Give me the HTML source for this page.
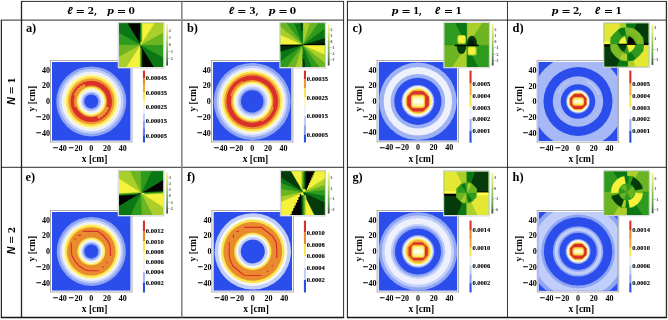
<!DOCTYPE html>
<html><head><meta charset="utf-8"><title>figure</title>
<style>html,body{margin:0;padding:0;background:#fff}svg{display:block}</style></head>
<body>
<svg width="668" height="320" viewBox="0 0 668 320">
<rect width="668" height="320" fill="#fff"/>
<clipPath id="c1"><rect x="51.9" y="62.00000000000001" width="78.8" height="78.8"/></clipPath>
<rect x="50.4" y="60.60000000000001" width="81.6" height="81.39999999999999" fill="#fff" stroke="#8a8a8a" stroke-width="0.7"/>
<g clip-path="url(#c1)">
<rect x="51.9" y="62.00000000000001" width="78.8" height="78.8" fill="#2b4dec"/>
<circle cx="91.3" cy="101.4" r="35" fill="#8ea5f3"/>
<circle cx="91.3" cy="101.4" r="32.4" fill="#c1cef9"/>
<circle cx="91.3" cy="101.4" r="29.8" fill="#eef0fb"/>
<circle cx="91.3" cy="101.4" r="27.5" fill="#fcf8ba"/>
<circle cx="91.3" cy="101.4" r="25.3" fill="#fbe54c"/>
<circle cx="91.3" cy="101.4" r="23.1" fill="#ee9632"/>
<circle cx="91.3" cy="101.4" r="20.7" fill="#d9302a"/>
<circle cx="91.3" cy="101.4" r="15.8" fill="#ee9632"/>
<circle cx="91.3" cy="101.4" r="14.6" fill="#fbe54c"/>
<circle cx="91.3" cy="101.4" r="13.3" fill="#fcf8ba"/>
<circle cx="91.3" cy="101.4" r="11.9" fill="#eef0fb"/>
<circle cx="91.3" cy="101.4" r="10.0" fill="#c1cef9"/>
<circle cx="91.3" cy="101.4" r="8.6" fill="#8ea5f3"/>
<circle cx="91.3" cy="101.4" r="7.0" fill="#2b4dec"/>
<polygon points="84.56,84.71 83.04,85.41 81.58,86.25 80.22,87.22 78.95,88.31 77.78,89.51 76.74,90.82 75.82,92.22 75.03,93.70 74.39,95.24 76.73,96.10 77.29,94.77 77.97,93.49 78.76,92.29 79.66,91.16 80.66,90.13 81.76,89.19 82.93,88.35 84.18,87.63 85.49,87.03" fill="#ee9632" stroke="#ee9632" stroke-width="0.3"/><polygon points="83.76,84.07 83.01,84.41 82.28,84.79 82.90,85.93 83.58,85.58 84.28,85.26" fill="#ee9632" stroke="#ee9632" stroke-width="0.3"/><polygon points="80.87,85.64 80.19,86.11 79.53,86.61 80.34,87.63 80.95,87.16 81.59,86.72" fill="#ee9632" stroke="#ee9632" stroke-width="0.3"/><polygon points="78.29,87.69 77.70,88.27 77.14,88.88 78.12,89.74 78.64,89.17 79.18,88.63" fill="#ee9632" stroke="#ee9632" stroke-width="0.3"/><polygon points="76.11,90.16 75.63,90.83 75.19,91.52 76.29,92.20 76.71,91.56 77.15,90.93" fill="#ee9632" stroke="#ee9632" stroke-width="0.3"/><polygon points="74.39,92.97 74.03,93.71 73.72,94.47 74.92,94.95 75.22,94.24 75.55,93.55" fill="#ee9632" stroke="#ee9632" stroke-width="0.3"/><polygon points="98.04,118.09 99.56,117.39 101.02,116.55 102.38,115.58 103.65,114.49 104.82,113.29 105.86,111.98 106.78,110.58 107.57,109.10 108.21,107.56 105.87,106.70 105.31,108.03 104.63,109.31 103.84,110.51 102.94,111.64 101.94,112.67 100.84,113.61 99.67,114.45 98.42,115.17 97.11,115.77" fill="#ee9632" stroke="#ee9632" stroke-width="0.3"/><polygon points="98.84,118.73 99.59,118.39 100.32,118.01 99.70,116.87 99.02,117.22 98.32,117.54" fill="#ee9632" stroke="#ee9632" stroke-width="0.3"/><polygon points="101.73,117.16 102.41,116.69 103.07,116.19 102.26,115.17 101.65,115.64 101.01,116.08" fill="#ee9632" stroke="#ee9632" stroke-width="0.3"/><polygon points="104.31,115.11 104.90,114.53 105.46,113.92 104.48,113.06 103.96,113.63 103.42,114.17" fill="#ee9632" stroke="#ee9632" stroke-width="0.3"/><polygon points="106.49,112.64 106.97,111.97 107.41,111.28 106.31,110.60 105.89,111.24 105.45,111.87" fill="#ee9632" stroke="#ee9632" stroke-width="0.3"/><polygon points="108.21,109.83 108.57,109.09 108.88,108.33 107.68,107.85 107.38,108.56 107.05,109.25" fill="#ee9632" stroke="#ee9632" stroke-width="0.3"/><polygon points="75.14,95.52 74.63,97.16 74.29,98.84 74.12,100.54 74.12,102.26 74.29,103.96 74.63,105.64 75.14,107.28 76.73,106.70 76.28,105.22 75.97,103.71 75.82,102.17 75.82,100.63 75.97,99.09 76.28,97.58 76.73,96.10" fill="#ee9632" stroke="#ee9632" stroke-width="0.3"/>
</g>
<text x="49.9" y="72.7" font-size="8.0" text-anchor="end" font-weight="bold" font-style="normal" font-family='"Liberation Serif", "DejaVu Serif", serif'>40</text>
<text x="49.9" y="88.4" font-size="8.0" text-anchor="end" font-weight="bold" font-style="normal" font-family='"Liberation Serif", "DejaVu Serif", serif'>20</text>
<text x="49.9" y="104.10000000000001" font-size="8.0" text-anchor="end" font-weight="bold" font-style="normal" font-family='"Liberation Serif", "DejaVu Serif", serif'>0</text>
<text x="49.9" y="119.80000000000001" font-size="8.0" text-anchor="end" font-weight="bold" font-style="normal" font-family='"Liberation Serif", "DejaVu Serif", serif'>20</text>
<text x="41.5" y="120.00000000000001" font-size="9.6" text-anchor="end" font-weight="bold" font-style="normal" font-family='"Liberation Serif", "DejaVu Serif", serif' stroke="#000" stroke-width="0.25">−</text>
<text x="49.9" y="135.5" font-size="8.0" text-anchor="end" font-weight="bold" font-style="normal" font-family='"Liberation Serif", "DejaVu Serif", serif'>40</text>
<text x="41.5" y="135.70000000000002" font-size="9.6" text-anchor="end" font-weight="bold" font-style="normal" font-family='"Liberation Serif", "DejaVu Serif", serif' stroke="#000" stroke-width="0.25">−</text>
<text x="62.699999999999996" y="150.5" font-size="8.0" text-anchor="middle" font-weight="bold" font-style="normal" font-family='"Liberation Serif", "DejaVu Serif", serif'>40</text>
<text x="58.3" y="150.7" font-size="9.6" text-anchor="end" font-weight="bold" font-style="normal" font-family='"Liberation Serif", "DejaVu Serif", serif' stroke="#000" stroke-width="0.25">−</text>
<text x="78.39999999999999" y="150.5" font-size="8.0" text-anchor="middle" font-weight="bold" font-style="normal" font-family='"Liberation Serif", "DejaVu Serif", serif'>20</text>
<text x="73.99999999999999" y="150.7" font-size="9.6" text-anchor="end" font-weight="bold" font-style="normal" font-family='"Liberation Serif", "DejaVu Serif", serif' stroke="#000" stroke-width="0.25">−</text>
<text x="91.3" y="150.5" font-size="8.0" text-anchor="middle" font-weight="bold" font-style="normal" font-family='"Liberation Serif", "DejaVu Serif", serif'>0</text>
<text x="107.0" y="150.5" font-size="8.0" text-anchor="middle" font-weight="bold" font-style="normal" font-family='"Liberation Serif", "DejaVu Serif", serif'>20</text>
<text x="122.69999999999999" y="150.5" font-size="8.0" text-anchor="middle" font-weight="bold" font-style="normal" font-family='"Liberation Serif", "DejaVu Serif", serif'>40</text>
<text x="94.6" y="161.6" font-size="9.5" text-anchor="middle" font-weight="bold" font-style="normal" font-family='"Liberation Serif", "DejaVu Serif", serif'>x [cm]</text>
<text x="35.0" y="98.7" font-size="9.5" text-anchor="middle" font-weight="bold" font-style="normal" font-family='"Liberation Serif", "DejaVu Serif", serif' transform="rotate(-90 35.0 98.7)">y [cm]</text>
<clipPath id="c2"><rect x="212.79999999999998" y="62.00000000000001" width="78.8" height="78.8"/></clipPath>
<rect x="211.29999999999998" y="60.60000000000001" width="81.6" height="81.39999999999999" fill="#fff" stroke="#8a8a8a" stroke-width="0.7"/>
<g clip-path="url(#c2)">
<rect x="212.79999999999998" y="62.00000000000001" width="78.8" height="78.8" fill="#2b4dec"/>
<circle cx="252.2" cy="101.4" r="38.5" fill="#8ea5f3"/>
<circle cx="252.2" cy="101.4" r="35.6" fill="#c1cef9"/>
<circle cx="252.2" cy="101.4" r="33.4" fill="#eef0fb"/>
<circle cx="252.2" cy="101.4" r="31.3" fill="#fcf8ba"/>
<circle cx="252.2" cy="101.4" r="29.8" fill="#fbe54c"/>
<circle cx="252.2" cy="101.4" r="27.9" fill="#ee9632"/>
<circle cx="252.2" cy="101.4" r="25.9" fill="#d9302a"/>
<circle cx="252.2" cy="101.4" r="21.3" fill="#ee9632"/>
<circle cx="252.2" cy="101.4" r="19.9" fill="#fbe54c"/>
<circle cx="252.2" cy="101.4" r="18.4" fill="#fcf8ba"/>
<circle cx="252.2" cy="101.4" r="16.9" fill="#eef0fb"/>
<circle cx="252.2" cy="101.4" r="14.9" fill="#c1cef9"/>
<circle cx="252.2" cy="101.4" r="12.9" fill="#8ea5f3"/>
<circle cx="252.2" cy="101.4" r="11.2" fill="#2b4dec"/>
<polygon points="242.78,81.19 240.86,82.20 239.06,83.38 237.38,84.74 235.83,86.25 234.44,87.91 233.22,89.69 232.18,91.59 231.32,93.57 230.66,95.63 231.92,95.96 232.54,94.03 233.34,92.16 234.33,90.38 235.48,88.70 236.79,87.14 238.24,85.71 239.82,84.43 241.52,83.32 243.33,82.37" fill="#ee9632" stroke="#ee9632" stroke-width="0.3"/><polygon points="261.62,121.61 263.54,120.60 265.34,119.42 267.02,118.06 268.57,116.55 269.96,114.89 271.18,113.11 272.22,111.21 273.08,109.23 273.74,107.17 272.48,106.84 271.86,108.77 271.06,110.64 270.07,112.42 268.92,114.10 267.61,115.66 266.16,117.09 264.58,118.37 262.88,119.48 261.07,120.43" fill="#ee9632" stroke="#ee9632" stroke-width="0.3"/>
</g>
<text x="210.79999999999998" y="72.7" font-size="8.0" text-anchor="end" font-weight="bold" font-style="normal" font-family='"Liberation Serif", "DejaVu Serif", serif'>40</text>
<text x="210.79999999999998" y="88.4" font-size="8.0" text-anchor="end" font-weight="bold" font-style="normal" font-family='"Liberation Serif", "DejaVu Serif", serif'>20</text>
<text x="210.79999999999998" y="104.10000000000001" font-size="8.0" text-anchor="end" font-weight="bold" font-style="normal" font-family='"Liberation Serif", "DejaVu Serif", serif'>0</text>
<text x="210.79999999999998" y="119.80000000000001" font-size="8.0" text-anchor="end" font-weight="bold" font-style="normal" font-family='"Liberation Serif", "DejaVu Serif", serif'>20</text>
<text x="202.39999999999998" y="120.00000000000001" font-size="9.6" text-anchor="end" font-weight="bold" font-style="normal" font-family='"Liberation Serif", "DejaVu Serif", serif' stroke="#000" stroke-width="0.25">−</text>
<text x="210.79999999999998" y="135.5" font-size="8.0" text-anchor="end" font-weight="bold" font-style="normal" font-family='"Liberation Serif", "DejaVu Serif", serif'>40</text>
<text x="202.39999999999998" y="135.70000000000002" font-size="9.6" text-anchor="end" font-weight="bold" font-style="normal" font-family='"Liberation Serif", "DejaVu Serif", serif' stroke="#000" stroke-width="0.25">−</text>
<text x="223.6" y="150.5" font-size="8.0" text-anchor="middle" font-weight="bold" font-style="normal" font-family='"Liberation Serif", "DejaVu Serif", serif'>40</text>
<text x="219.2" y="150.7" font-size="9.6" text-anchor="end" font-weight="bold" font-style="normal" font-family='"Liberation Serif", "DejaVu Serif", serif' stroke="#000" stroke-width="0.25">−</text>
<text x="239.3" y="150.5" font-size="8.0" text-anchor="middle" font-weight="bold" font-style="normal" font-family='"Liberation Serif", "DejaVu Serif", serif'>20</text>
<text x="234.9" y="150.7" font-size="9.6" text-anchor="end" font-weight="bold" font-style="normal" font-family='"Liberation Serif", "DejaVu Serif", serif' stroke="#000" stroke-width="0.25">−</text>
<text x="252.2" y="150.5" font-size="8.0" text-anchor="middle" font-weight="bold" font-style="normal" font-family='"Liberation Serif", "DejaVu Serif", serif'>0</text>
<text x="267.9" y="150.5" font-size="8.0" text-anchor="middle" font-weight="bold" font-style="normal" font-family='"Liberation Serif", "DejaVu Serif", serif'>20</text>
<text x="283.59999999999997" y="150.5" font-size="8.0" text-anchor="middle" font-weight="bold" font-style="normal" font-family='"Liberation Serif", "DejaVu Serif", serif'>40</text>
<text x="255.5" y="161.6" font-size="9.5" text-anchor="middle" font-weight="bold" font-style="normal" font-family='"Liberation Serif", "DejaVu Serif", serif'>x [cm]</text>
<text x="195.89999999999998" y="98.7" font-size="9.5" text-anchor="middle" font-weight="bold" font-style="normal" font-family='"Liberation Serif", "DejaVu Serif", serif' transform="rotate(-90 195.89999999999998 98.7)">y [cm]</text>
<clipPath id="c3"><rect x="378.5" y="61.9" width="78.8" height="78.8"/></clipPath>
<rect x="377.0" y="60.5" width="81.59999999999997" height="81.39999999999998" fill="#fff" stroke="#8a8a8a" stroke-width="0.7"/>
<g clip-path="url(#c3)">
<rect x="378.5" y="61.9" width="78.8" height="78.8" fill="#2b4dec"/>
<circle cx="417.9" cy="101.3" r="38.8" fill="#9db1f5"/>
<circle cx="417.9" cy="101.3" r="34.2" fill="#eef0fb"/>
<circle cx="417.9" cy="101.3" r="27.3" fill="#9db1f5"/>
<circle cx="417.9" cy="101.3" r="23.6" fill="#2b4dec"/>
<circle cx="417.9" cy="101.3" r="16.4" fill="#9db1f5"/>
<circle cx="417.9" cy="101.3" r="15.2" fill="#eef0fb"/>
<circle cx="417.9" cy="101.3" r="13.7" fill="#fcf8ba"/>
<circle cx="417.9" cy="101.3" r="12.8" fill="#fbe54c"/>
<circle cx="417.9" cy="101.3" r="11.9" fill="#f4ab36"/>
<polygon points="413.00,91.50 423.10,91.50 428.45,96.85 428.45,105.75 423.10,111.10 413.00,111.10 407.65,105.75 407.65,96.85" fill="#d9302a" stroke="#d9302a" stroke-width="0.8" stroke-linejoin="round"/><rect x="410.95" y="94.40" width="14.20" height="13.80" rx="3.2" ry="3.2" fill="#f4ab36"/><rect x="411.75" y="95.40" width="12.60" height="11.80" rx="2.6" ry="2.6" fill="#fde74e"/><rect x="412.45" y="96.70" width="11.20" height="9.20" rx="2.0" ry="2.0" fill="#fbf6a8"/><rect x="412.85" y="99.40" width="10.40" height="3.80" rx="1.2" ry="1.2" fill="#fdfdf0"/>
</g>
<text x="376.5" y="72.60000000000001" font-size="8.0" text-anchor="end" font-weight="bold" font-style="normal" font-family='"Liberation Serif", "DejaVu Serif", serif'>40</text>
<text x="376.5" y="88.3" font-size="8.0" text-anchor="end" font-weight="bold" font-style="normal" font-family='"Liberation Serif", "DejaVu Serif", serif'>20</text>
<text x="376.5" y="104.0" font-size="8.0" text-anchor="end" font-weight="bold" font-style="normal" font-family='"Liberation Serif", "DejaVu Serif", serif'>0</text>
<text x="376.5" y="119.7" font-size="8.0" text-anchor="end" font-weight="bold" font-style="normal" font-family='"Liberation Serif", "DejaVu Serif", serif'>20</text>
<text x="368.1" y="119.9" font-size="9.6" text-anchor="end" font-weight="bold" font-style="normal" font-family='"Liberation Serif", "DejaVu Serif", serif' stroke="#000" stroke-width="0.25">−</text>
<text x="376.5" y="135.39999999999998" font-size="8.0" text-anchor="end" font-weight="bold" font-style="normal" font-family='"Liberation Serif", "DejaVu Serif", serif'>40</text>
<text x="368.1" y="135.6" font-size="9.6" text-anchor="end" font-weight="bold" font-style="normal" font-family='"Liberation Serif", "DejaVu Serif", serif' stroke="#000" stroke-width="0.25">−</text>
<text x="389.3" y="150.39999999999998" font-size="8.0" text-anchor="middle" font-weight="bold" font-style="normal" font-family='"Liberation Serif", "DejaVu Serif", serif'>40</text>
<text x="384.90000000000003" y="150.59999999999997" font-size="9.6" text-anchor="end" font-weight="bold" font-style="normal" font-family='"Liberation Serif", "DejaVu Serif", serif' stroke="#000" stroke-width="0.25">−</text>
<text x="405.0" y="150.39999999999998" font-size="8.0" text-anchor="middle" font-weight="bold" font-style="normal" font-family='"Liberation Serif", "DejaVu Serif", serif'>20</text>
<text x="400.6" y="150.59999999999997" font-size="9.6" text-anchor="end" font-weight="bold" font-style="normal" font-family='"Liberation Serif", "DejaVu Serif", serif' stroke="#000" stroke-width="0.25">−</text>
<text x="417.9" y="150.39999999999998" font-size="8.0" text-anchor="middle" font-weight="bold" font-style="normal" font-family='"Liberation Serif", "DejaVu Serif", serif'>0</text>
<text x="433.59999999999997" y="150.39999999999998" font-size="8.0" text-anchor="middle" font-weight="bold" font-style="normal" font-family='"Liberation Serif", "DejaVu Serif", serif'>20</text>
<text x="449.29999999999995" y="150.39999999999998" font-size="8.0" text-anchor="middle" font-weight="bold" font-style="normal" font-family='"Liberation Serif", "DejaVu Serif", serif'>40</text>
<text x="421.2" y="161.49999999999997" font-size="9.5" text-anchor="middle" font-weight="bold" font-style="normal" font-family='"Liberation Serif", "DejaVu Serif", serif'>x [cm]</text>
<text x="361.59999999999997" y="98.6" font-size="9.5" text-anchor="middle" font-weight="bold" font-style="normal" font-family='"Liberation Serif", "DejaVu Serif", serif' transform="rotate(-90 361.59999999999997 98.6)">y [cm]</text>
<clipPath id="c4"><rect x="538.6" y="62.1" width="78.8" height="78.8"/></clipPath>
<rect x="537.1" y="60.7" width="81.59999999999991" height="81.39999999999999" fill="#fff" stroke="#8a8a8a" stroke-width="0.7"/>
<g clip-path="url(#c4)">
<rect x="538.6" y="62.1" width="78.8" height="78.8" fill="#2b4dec"/>
<circle cx="578.0" cy="101.5" r="60" fill="#2b4dec"/>
<circle cx="578.0" cy="101.5" r="46.5" fill="#a6b8f6"/>
<circle cx="578.0" cy="101.5" r="34.5" fill="#2b4dec"/>
<circle cx="578.0" cy="101.5" r="25.2" fill="#a6b8f6"/>
<circle cx="578.0" cy="101.5" r="17.3" fill="#2b4dec"/>
<circle cx="578.0" cy="101.5" r="11.9" fill="#8ea5f3"/>
<circle cx="578.0" cy="101.5" r="11.0" fill="#eef0fb"/>
<circle cx="578.0" cy="101.5" r="10.2" fill="#fcf8ba"/>
<circle cx="578.0" cy="101.5" r="9.2" fill="#fbe54c"/>
<polyline points="598.64,94.04 597.89,92.25 596.99,90.53 595.93,88.89 594.74,87.36 593.41,85.94 591.97,84.64 590.41,83.47 588.76,82.45 587.02,81.58" fill="none" stroke="#f4f4e4" stroke-width="0.7" opacity="0.95" stroke-linecap="round"/><polyline points="568.55,81.82 566.87,82.73 565.28,83.78 563.78,84.97 562.40,86.29 561.13,87.72 559.99,89.25 559.00,90.88 558.14,92.59" fill="none" stroke="#eef0ea" stroke-width="0.6" opacity="0.6" stroke-linecap="round"/><polyline points="557.66,108.96 558.41,110.75 559.31,112.47 560.37,114.11 561.56,115.64 562.89,117.06 564.33,118.36 565.89,119.53 567.54,120.55 569.28,121.42" fill="none" stroke="#eef0ea" stroke-width="0.6" opacity="0.5" stroke-linecap="round"/><polyline points="587.71,121.09 589.38,120.19 590.96,119.14 592.45,117.95 593.83,116.64 595.09,115.22 596.22,113.69 597.22,112.07 598.07,110.37" fill="none" stroke="#eef0ea" stroke-width="0.6" opacity="0.4" stroke-linecap="round"/><polygon points="574.30,94.10 582.00,94.10 586.15,98.25 586.15,104.75 582.00,108.90 574.30,108.90 570.15,104.75 570.15,98.25" fill="#d9302a" stroke="#d9302a" stroke-width="0.8" stroke-linejoin="round"/><rect x="572.15" y="97.00" width="12.00" height="9.00" rx="3.2" ry="3.2" fill="#f4ab36"/><rect x="572.95" y="98.00" width="10.40" height="7.00" rx="2.6" ry="2.6" fill="#fde74e"/><rect x="573.65" y="99.30" width="9.00" height="4.40" rx="2.0" ry="2.0" fill="#fbf6a8"/><rect x="573.75" y="100.00" width="8.80" height="3.00" rx="1.2" ry="1.2" fill="#fcfbc8"/>
</g>
<text x="536.6" y="72.8" font-size="8.0" text-anchor="end" font-weight="bold" font-style="normal" font-family='"Liberation Serif", "DejaVu Serif", serif'>40</text>
<text x="536.6" y="88.5" font-size="8.0" text-anchor="end" font-weight="bold" font-style="normal" font-family='"Liberation Serif", "DejaVu Serif", serif'>20</text>
<text x="536.6" y="104.2" font-size="8.0" text-anchor="end" font-weight="bold" font-style="normal" font-family='"Liberation Serif", "DejaVu Serif", serif'>0</text>
<text x="536.6" y="119.9" font-size="8.0" text-anchor="end" font-weight="bold" font-style="normal" font-family='"Liberation Serif", "DejaVu Serif", serif'>20</text>
<text x="528.2" y="120.10000000000001" font-size="9.6" text-anchor="end" font-weight="bold" font-style="normal" font-family='"Liberation Serif", "DejaVu Serif", serif' stroke="#000" stroke-width="0.25">−</text>
<text x="536.6" y="135.6" font-size="8.0" text-anchor="end" font-weight="bold" font-style="normal" font-family='"Liberation Serif", "DejaVu Serif", serif'>40</text>
<text x="528.2" y="135.8" font-size="9.6" text-anchor="end" font-weight="bold" font-style="normal" font-family='"Liberation Serif", "DejaVu Serif", serif' stroke="#000" stroke-width="0.25">−</text>
<text x="549.4" y="150.6" font-size="8.0" text-anchor="middle" font-weight="bold" font-style="normal" font-family='"Liberation Serif", "DejaVu Serif", serif'>40</text>
<text x="545.0" y="150.79999999999998" font-size="9.6" text-anchor="end" font-weight="bold" font-style="normal" font-family='"Liberation Serif", "DejaVu Serif", serif' stroke="#000" stroke-width="0.25">−</text>
<text x="565.0999999999999" y="150.6" font-size="8.0" text-anchor="middle" font-weight="bold" font-style="normal" font-family='"Liberation Serif", "DejaVu Serif", serif'>20</text>
<text x="560.6999999999999" y="150.79999999999998" font-size="9.6" text-anchor="end" font-weight="bold" font-style="normal" font-family='"Liberation Serif", "DejaVu Serif", serif' stroke="#000" stroke-width="0.25">−</text>
<text x="578.0" y="150.6" font-size="8.0" text-anchor="middle" font-weight="bold" font-style="normal" font-family='"Liberation Serif", "DejaVu Serif", serif'>0</text>
<text x="593.7" y="150.6" font-size="8.0" text-anchor="middle" font-weight="bold" font-style="normal" font-family='"Liberation Serif", "DejaVu Serif", serif'>20</text>
<text x="609.4" y="150.6" font-size="8.0" text-anchor="middle" font-weight="bold" font-style="normal" font-family='"Liberation Serif", "DejaVu Serif", serif'>40</text>
<text x="581.3" y="161.7" font-size="9.5" text-anchor="middle" font-weight="bold" font-style="normal" font-family='"Liberation Serif", "DejaVu Serif", serif'>x [cm]</text>
<text x="521.7" y="98.8" font-size="9.5" text-anchor="middle" font-weight="bold" font-style="normal" font-family='"Liberation Serif", "DejaVu Serif", serif' transform="rotate(-90 521.7 98.8)">y [cm]</text>
<clipPath id="c5"><rect x="51.9" y="212.0" width="78.8" height="78.8"/></clipPath>
<rect x="50.4" y="210.6" width="81.6" height="81.4" fill="#fff" stroke="#8a8a8a" stroke-width="0.7"/>
<g clip-path="url(#c5)">
<rect x="51.9" y="212.0" width="78.8" height="78.8" fill="#2b4dec"/>
<circle cx="91.3" cy="251.4" r="34.5" fill="#8ea5f3"/>
<circle cx="91.3" cy="251.4" r="31.8" fill="#c1cef9"/>
<circle cx="91.3" cy="251.4" r="29.7" fill="#eef0fb"/>
<circle cx="91.3" cy="251.4" r="28" fill="#fcf8ba"/>
<circle cx="91.3" cy="251.4" r="26.3" fill="#fbe54c"/>
<circle cx="91.3" cy="251.4" r="24.2" fill="#ea8a2e"/>
<circle cx="91.3" cy="251.4" r="13.9" fill="#fbe54c"/>
<circle cx="91.3" cy="251.4" r="12.5" fill="#fcf8ba"/>
<circle cx="91.3" cy="251.4" r="11.1" fill="#eef0fb"/>
<circle cx="91.3" cy="251.4" r="9.6" fill="#c1cef9"/>
<circle cx="91.3" cy="251.4" r="8.6" fill="#8ea5f3"/>
<circle cx="91.3" cy="251.4" r="7" fill="#2b4dec"/>
<polyline points="83.40,231.40 98.10,231.40 103.00,235.20 107.90,240.70 110.10,245.60 110.45,251.10 110.50,255.40" fill="none" stroke="#d9302a" stroke-width="1.3" stroke-linejoin="round" stroke-linecap="round"/><polyline points="78.50,235.40 80.70,235.20" fill="none" stroke="#d9302a" stroke-width="1.15" stroke-linejoin="round" stroke-linecap="round"/><polyline points="75.00,238.80 75.40,239.40" fill="none" stroke="#d9302a" stroke-width="1.15" stroke-linejoin="round" stroke-linecap="round"/><polyline points="71.30,243.40 71.40,251.00 71.90,255.40 74.70,260.80 79.60,266.30 84.50,269.60 88.90,270.70 98.70,270.70" fill="none" stroke="#d9302a" stroke-width="1.15" stroke-linejoin="round" stroke-linecap="round"/><polyline points="106.70,262.20 107.10,262.80" fill="none" stroke="#d9302a" stroke-width="1.15" stroke-linejoin="round" stroke-linecap="round"/><polyline points="102.90,266.60 103.30,267.20" fill="none" stroke="#d9302a" stroke-width="1.15" stroke-linejoin="round" stroke-linecap="round"/>
</g>
<text x="49.9" y="222.7" font-size="8.0" text-anchor="end" font-weight="bold" font-style="normal" font-family='"Liberation Serif", "DejaVu Serif", serif'>40</text>
<text x="49.9" y="238.4" font-size="8.0" text-anchor="end" font-weight="bold" font-style="normal" font-family='"Liberation Serif", "DejaVu Serif", serif'>20</text>
<text x="49.9" y="254.1" font-size="8.0" text-anchor="end" font-weight="bold" font-style="normal" font-family='"Liberation Serif", "DejaVu Serif", serif'>0</text>
<text x="49.9" y="269.8" font-size="8.0" text-anchor="end" font-weight="bold" font-style="normal" font-family='"Liberation Serif", "DejaVu Serif", serif'>20</text>
<text x="41.5" y="270.0" font-size="9.6" text-anchor="end" font-weight="bold" font-style="normal" font-family='"Liberation Serif", "DejaVu Serif", serif' stroke="#000" stroke-width="0.25">−</text>
<text x="49.9" y="285.5" font-size="8.0" text-anchor="end" font-weight="bold" font-style="normal" font-family='"Liberation Serif", "DejaVu Serif", serif'>40</text>
<text x="41.5" y="285.7" font-size="9.6" text-anchor="end" font-weight="bold" font-style="normal" font-family='"Liberation Serif", "DejaVu Serif", serif' stroke="#000" stroke-width="0.25">−</text>
<text x="62.699999999999996" y="300.5" font-size="8.0" text-anchor="middle" font-weight="bold" font-style="normal" font-family='"Liberation Serif", "DejaVu Serif", serif'>40</text>
<text x="58.3" y="300.7" font-size="9.6" text-anchor="end" font-weight="bold" font-style="normal" font-family='"Liberation Serif", "DejaVu Serif", serif' stroke="#000" stroke-width="0.25">−</text>
<text x="78.39999999999999" y="300.5" font-size="8.0" text-anchor="middle" font-weight="bold" font-style="normal" font-family='"Liberation Serif", "DejaVu Serif", serif'>20</text>
<text x="73.99999999999999" y="300.7" font-size="9.6" text-anchor="end" font-weight="bold" font-style="normal" font-family='"Liberation Serif", "DejaVu Serif", serif' stroke="#000" stroke-width="0.25">−</text>
<text x="91.3" y="300.5" font-size="8.0" text-anchor="middle" font-weight="bold" font-style="normal" font-family='"Liberation Serif", "DejaVu Serif", serif'>0</text>
<text x="107.0" y="300.5" font-size="8.0" text-anchor="middle" font-weight="bold" font-style="normal" font-family='"Liberation Serif", "DejaVu Serif", serif'>20</text>
<text x="122.69999999999999" y="300.5" font-size="8.0" text-anchor="middle" font-weight="bold" font-style="normal" font-family='"Liberation Serif", "DejaVu Serif", serif'>40</text>
<text x="94.6" y="311.6" font-size="9.5" text-anchor="middle" font-weight="bold" font-style="normal" font-family='"Liberation Serif", "DejaVu Serif", serif'>x [cm]</text>
<text x="35.0" y="248.70000000000002" font-size="9.5" text-anchor="middle" font-weight="bold" font-style="normal" font-family='"Liberation Serif", "DejaVu Serif", serif' transform="rotate(-90 35.0 248.70000000000002)">y [cm]</text>
<clipPath id="c6"><rect x="213.4" y="212.0" width="78.8" height="78.8"/></clipPath>
<rect x="211.9" y="210.6" width="81.6" height="81.4" fill="#fff" stroke="#8a8a8a" stroke-width="0.7"/>
<g clip-path="url(#c6)">
<rect x="213.4" y="212.0" width="78.8" height="78.8" fill="#2b4dec"/>
<circle cx="252.8" cy="251.4" r="38.2" fill="#c1cef9"/>
<circle cx="252.8" cy="251.4" r="34.6" fill="#f6f6f2"/>
<circle cx="252.8" cy="251.4" r="31.8" fill="#fbe54c"/>
<circle cx="252.8" cy="251.4" r="29.4" fill="#ea8a2e"/>
<circle cx="252.8" cy="251.4" r="18.6" fill="#fbe54c"/>
<circle cx="252.8" cy="251.4" r="16.8" fill="#f6f6f2"/>
<circle cx="252.8" cy="251.4" r="14.5" fill="#c1cef9"/>
<circle cx="252.8" cy="251.4" r="12" fill="#2b4dec"/>
<polyline points="244.50,227.30 261.10,227.30 265.90,230.80 272.70,236.30 276.20,242.50 276.90,252.10 276.80,257.40" fill="none" stroke="#d9302a" stroke-width="1.3" stroke-linejoin="round" stroke-linecap="round"/><polyline points="236.80,231.60 238.60,231.30" fill="none" stroke="#d9302a" stroke-width="1.15" stroke-linejoin="round" stroke-linecap="round"/><polyline points="233.50,234.90 233.50,237.60" fill="none" stroke="#d9302a" stroke-width="1.15" stroke-linejoin="round" stroke-linecap="round"/><polyline points="229.30,242.40 229.20,252.00 229.60,258.40 232.90,266.00 239.70,271.80 244.50,275.20 250.80,275.50 261.10,275.50" fill="none" stroke="#d9302a" stroke-width="1.15" stroke-linejoin="round" stroke-linecap="round"/><polyline points="272.10,265.40 272.50,266.00" fill="none" stroke="#d9302a" stroke-width="1.15" stroke-linejoin="round" stroke-linecap="round"/><polyline points="267.40,271.00 267.80,271.60" fill="none" stroke="#d9302a" stroke-width="1.15" stroke-linejoin="round" stroke-linecap="round"/>
</g>
<text x="211.4" y="222.7" font-size="8.0" text-anchor="end" font-weight="bold" font-style="normal" font-family='"Liberation Serif", "DejaVu Serif", serif'>40</text>
<text x="211.4" y="238.4" font-size="8.0" text-anchor="end" font-weight="bold" font-style="normal" font-family='"Liberation Serif", "DejaVu Serif", serif'>20</text>
<text x="211.4" y="254.1" font-size="8.0" text-anchor="end" font-weight="bold" font-style="normal" font-family='"Liberation Serif", "DejaVu Serif", serif'>0</text>
<text x="211.4" y="269.8" font-size="8.0" text-anchor="end" font-weight="bold" font-style="normal" font-family='"Liberation Serif", "DejaVu Serif", serif'>20</text>
<text x="203.0" y="270.0" font-size="9.6" text-anchor="end" font-weight="bold" font-style="normal" font-family='"Liberation Serif", "DejaVu Serif", serif' stroke="#000" stroke-width="0.25">−</text>
<text x="211.4" y="285.5" font-size="8.0" text-anchor="end" font-weight="bold" font-style="normal" font-family='"Liberation Serif", "DejaVu Serif", serif'>40</text>
<text x="203.0" y="285.7" font-size="9.6" text-anchor="end" font-weight="bold" font-style="normal" font-family='"Liberation Serif", "DejaVu Serif", serif' stroke="#000" stroke-width="0.25">−</text>
<text x="224.20000000000002" y="300.5" font-size="8.0" text-anchor="middle" font-weight="bold" font-style="normal" font-family='"Liberation Serif", "DejaVu Serif", serif'>40</text>
<text x="219.8" y="300.7" font-size="9.6" text-anchor="end" font-weight="bold" font-style="normal" font-family='"Liberation Serif", "DejaVu Serif", serif' stroke="#000" stroke-width="0.25">−</text>
<text x="239.90000000000003" y="300.5" font-size="8.0" text-anchor="middle" font-weight="bold" font-style="normal" font-family='"Liberation Serif", "DejaVu Serif", serif'>20</text>
<text x="235.50000000000003" y="300.7" font-size="9.6" text-anchor="end" font-weight="bold" font-style="normal" font-family='"Liberation Serif", "DejaVu Serif", serif' stroke="#000" stroke-width="0.25">−</text>
<text x="252.8" y="300.5" font-size="8.0" text-anchor="middle" font-weight="bold" font-style="normal" font-family='"Liberation Serif", "DejaVu Serif", serif'>0</text>
<text x="268.5" y="300.5" font-size="8.0" text-anchor="middle" font-weight="bold" font-style="normal" font-family='"Liberation Serif", "DejaVu Serif", serif'>20</text>
<text x="284.2" y="300.5" font-size="8.0" text-anchor="middle" font-weight="bold" font-style="normal" font-family='"Liberation Serif", "DejaVu Serif", serif'>40</text>
<text x="256.1" y="311.6" font-size="9.5" text-anchor="middle" font-weight="bold" font-style="normal" font-family='"Liberation Serif", "DejaVu Serif", serif'>x [cm]</text>
<text x="196.5" y="248.70000000000002" font-size="9.5" text-anchor="middle" font-weight="bold" font-style="normal" font-family='"Liberation Serif", "DejaVu Serif", serif' transform="rotate(-90 196.5 248.70000000000002)">y [cm]</text>
<clipPath id="c7"><rect x="378.6" y="212.0" width="78.8" height="78.8"/></clipPath>
<rect x="377.1" y="210.6" width="81.59999999999997" height="81.4" fill="#fff" stroke="#8a8a8a" stroke-width="0.7"/>
<g clip-path="url(#c7)">
<rect x="378.6" y="212.0" width="78.8" height="78.8" fill="#2b4dec"/>
<circle cx="418.0" cy="251.4" r="39.2" fill="#8ea5f3"/>
<circle cx="418.0" cy="251.4" r="36.2" fill="#c1cef9"/>
<circle cx="418.0" cy="251.4" r="33.4" fill="#eef0fb"/>
<circle cx="418.0" cy="251.4" r="27.3" fill="#c1cef9"/>
<circle cx="418.0" cy="251.4" r="25.3" fill="#8ea5f3"/>
<circle cx="418.0" cy="251.4" r="23.0" fill="#2b4dec"/>
<circle cx="418.0" cy="251.4" r="16.3" fill="#8ea5f3"/>
<circle cx="418.0" cy="251.4" r="15.4" fill="#c1cef9"/>
<circle cx="418.0" cy="251.4" r="14.6" fill="#eef0fb"/>
<circle cx="418.0" cy="251.4" r="13.6" fill="#fcf8ba"/>
<circle cx="418.0" cy="251.4" r="12.7" fill="#fbe54c"/>
<circle cx="418.0" cy="251.4" r="11.4" fill="#f4ab36"/>
<polygon points="413.70,242.80 422.60,242.80 427.35,247.55 427.35,255.25 422.60,260.00 413.70,260.00 408.95,255.25 408.95,247.55" fill="#d9302a" stroke="#d9302a" stroke-width="0.8" stroke-linejoin="round"/><rect x="411.35" y="244.80" width="13.60" height="13.20" rx="3.2" ry="3.2" fill="#f4ab36"/><rect x="412.15" y="245.80" width="12.00" height="11.20" rx="2.6" ry="2.6" fill="#fde74e"/><rect x="412.85" y="247.10" width="10.60" height="8.60" rx="2.0" ry="2.0" fill="#fbf6a8"/><rect x="413.25" y="249.70" width="9.80" height="3.40" rx="1.2" ry="1.2" fill="#fdfdf0"/>
</g>
<text x="376.6" y="222.7" font-size="8.0" text-anchor="end" font-weight="bold" font-style="normal" font-family='"Liberation Serif", "DejaVu Serif", serif'>40</text>
<text x="376.6" y="238.4" font-size="8.0" text-anchor="end" font-weight="bold" font-style="normal" font-family='"Liberation Serif", "DejaVu Serif", serif'>20</text>
<text x="376.6" y="254.1" font-size="8.0" text-anchor="end" font-weight="bold" font-style="normal" font-family='"Liberation Serif", "DejaVu Serif", serif'>0</text>
<text x="376.6" y="269.8" font-size="8.0" text-anchor="end" font-weight="bold" font-style="normal" font-family='"Liberation Serif", "DejaVu Serif", serif'>20</text>
<text x="368.20000000000005" y="270.0" font-size="9.6" text-anchor="end" font-weight="bold" font-style="normal" font-family='"Liberation Serif", "DejaVu Serif", serif' stroke="#000" stroke-width="0.25">−</text>
<text x="376.6" y="285.5" font-size="8.0" text-anchor="end" font-weight="bold" font-style="normal" font-family='"Liberation Serif", "DejaVu Serif", serif'>40</text>
<text x="368.20000000000005" y="285.7" font-size="9.6" text-anchor="end" font-weight="bold" font-style="normal" font-family='"Liberation Serif", "DejaVu Serif", serif' stroke="#000" stroke-width="0.25">−</text>
<text x="389.40000000000003" y="300.5" font-size="8.0" text-anchor="middle" font-weight="bold" font-style="normal" font-family='"Liberation Serif", "DejaVu Serif", serif'>40</text>
<text x="385.00000000000006" y="300.7" font-size="9.6" text-anchor="end" font-weight="bold" font-style="normal" font-family='"Liberation Serif", "DejaVu Serif", serif' stroke="#000" stroke-width="0.25">−</text>
<text x="405.1" y="300.5" font-size="8.0" text-anchor="middle" font-weight="bold" font-style="normal" font-family='"Liberation Serif", "DejaVu Serif", serif'>20</text>
<text x="400.70000000000005" y="300.7" font-size="9.6" text-anchor="end" font-weight="bold" font-style="normal" font-family='"Liberation Serif", "DejaVu Serif", serif' stroke="#000" stroke-width="0.25">−</text>
<text x="418.0" y="300.5" font-size="8.0" text-anchor="middle" font-weight="bold" font-style="normal" font-family='"Liberation Serif", "DejaVu Serif", serif'>0</text>
<text x="433.7" y="300.5" font-size="8.0" text-anchor="middle" font-weight="bold" font-style="normal" font-family='"Liberation Serif", "DejaVu Serif", serif'>20</text>
<text x="449.4" y="300.5" font-size="8.0" text-anchor="middle" font-weight="bold" font-style="normal" font-family='"Liberation Serif", "DejaVu Serif", serif'>40</text>
<text x="421.3" y="311.6" font-size="9.5" text-anchor="middle" font-weight="bold" font-style="normal" font-family='"Liberation Serif", "DejaVu Serif", serif'>x [cm]</text>
<text x="361.7" y="248.70000000000002" font-size="9.5" text-anchor="middle" font-weight="bold" font-style="normal" font-family='"Liberation Serif", "DejaVu Serif", serif' transform="rotate(-90 361.7 248.70000000000002)">y [cm]</text>
<clipPath id="c8"><rect x="538.7" y="212.0" width="78.8" height="78.8"/></clipPath>
<rect x="537.2" y="210.6" width="81.59999999999991" height="81.4" fill="#fff" stroke="#8a8a8a" stroke-width="0.7"/>
<g clip-path="url(#c8)">
<rect x="538.7" y="212.0" width="78.8" height="78.8" fill="#2b4dec"/>
<circle cx="578.1" cy="251.4" r="60" fill="#2b4dec"/>
<circle cx="578.1" cy="251.4" r="50.4" fill="#8ea5f3"/>
<circle cx="578.1" cy="251.4" r="46.4" fill="#c1cef9"/>
<circle cx="578.1" cy="251.4" r="36.9" fill="#8ea5f3"/>
<circle cx="578.1" cy="251.4" r="34.2" fill="#2b4dec"/>
<circle cx="578.1" cy="251.4" r="25.2" fill="#8ea5f3"/>
<circle cx="578.1" cy="251.4" r="23.6" fill="#c1cef9"/>
<circle cx="578.1" cy="251.4" r="20.4" fill="#8ea5f3"/>
<circle cx="578.1" cy="251.4" r="18.6" fill="#2b4dec"/>
<circle cx="578.1" cy="251.4" r="12.5" fill="#8ea5f3"/>
<circle cx="578.1" cy="251.4" r="11.3" fill="#eef0fb"/>
<circle cx="578.1" cy="251.4" r="10.4" fill="#fcf8ba"/>
<circle cx="578.1" cy="251.4" r="9.4" fill="#fbe54c"/>
<polygon points="574.40,244.00 582.10,244.00 586.25,248.15 586.25,254.65 582.10,258.80 574.40,258.80 570.25,254.65 570.25,248.15" fill="#d9302a" stroke="#d9302a" stroke-width="0.8" stroke-linejoin="round"/><rect x="572.35" y="247.00" width="11.80" height="8.80" rx="3.2" ry="3.2" fill="#f4ab36"/><rect x="573.15" y="248.00" width="10.20" height="6.80" rx="2.6" ry="2.6" fill="#fde74e"/><rect x="573.85" y="249.30" width="8.80" height="4.20" rx="2.0" ry="2.0" fill="#fbf6a8"/><rect x="573.95" y="249.90" width="8.60" height="3.00" rx="1.2" ry="1.2" fill="#fcfbc8"/>
</g>
<text x="536.7" y="222.7" font-size="8.0" text-anchor="end" font-weight="bold" font-style="normal" font-family='"Liberation Serif", "DejaVu Serif", serif'>40</text>
<text x="536.7" y="238.4" font-size="8.0" text-anchor="end" font-weight="bold" font-style="normal" font-family='"Liberation Serif", "DejaVu Serif", serif'>20</text>
<text x="536.7" y="254.1" font-size="8.0" text-anchor="end" font-weight="bold" font-style="normal" font-family='"Liberation Serif", "DejaVu Serif", serif'>0</text>
<text x="536.7" y="269.8" font-size="8.0" text-anchor="end" font-weight="bold" font-style="normal" font-family='"Liberation Serif", "DejaVu Serif", serif'>20</text>
<text x="528.3000000000001" y="270.0" font-size="9.6" text-anchor="end" font-weight="bold" font-style="normal" font-family='"Liberation Serif", "DejaVu Serif", serif' stroke="#000" stroke-width="0.25">−</text>
<text x="536.7" y="285.5" font-size="8.0" text-anchor="end" font-weight="bold" font-style="normal" font-family='"Liberation Serif", "DejaVu Serif", serif'>40</text>
<text x="528.3000000000001" y="285.7" font-size="9.6" text-anchor="end" font-weight="bold" font-style="normal" font-family='"Liberation Serif", "DejaVu Serif", serif' stroke="#000" stroke-width="0.25">−</text>
<text x="549.5" y="300.5" font-size="8.0" text-anchor="middle" font-weight="bold" font-style="normal" font-family='"Liberation Serif", "DejaVu Serif", serif'>40</text>
<text x="545.1" y="300.7" font-size="9.6" text-anchor="end" font-weight="bold" font-style="normal" font-family='"Liberation Serif", "DejaVu Serif", serif' stroke="#000" stroke-width="0.25">−</text>
<text x="565.1999999999999" y="300.5" font-size="8.0" text-anchor="middle" font-weight="bold" font-style="normal" font-family='"Liberation Serif", "DejaVu Serif", serif'>20</text>
<text x="560.8" y="300.7" font-size="9.6" text-anchor="end" font-weight="bold" font-style="normal" font-family='"Liberation Serif", "DejaVu Serif", serif' stroke="#000" stroke-width="0.25">−</text>
<text x="578.1" y="300.5" font-size="8.0" text-anchor="middle" font-weight="bold" font-style="normal" font-family='"Liberation Serif", "DejaVu Serif", serif'>0</text>
<text x="593.8000000000001" y="300.5" font-size="8.0" text-anchor="middle" font-weight="bold" font-style="normal" font-family='"Liberation Serif", "DejaVu Serif", serif'>20</text>
<text x="609.5" y="300.5" font-size="8.0" text-anchor="middle" font-weight="bold" font-style="normal" font-family='"Liberation Serif", "DejaVu Serif", serif'>40</text>
<text x="581.4" y="311.6" font-size="9.5" text-anchor="middle" font-weight="bold" font-style="normal" font-family='"Liberation Serif", "DejaVu Serif", serif'>x [cm]</text>
<text x="521.8000000000001" y="248.70000000000002" font-size="9.5" text-anchor="middle" font-weight="bold" font-style="normal" font-family='"Liberation Serif", "DejaVu Serif", serif' transform="rotate(-90 521.8000000000001 248.70000000000002)">y [cm]</text>
<text x="25.9" y="32.2" font-size="12.4" text-anchor="start" font-weight="bold" font-style="normal" font-family='"Liberation Serif", "DejaVu Serif", serif'>a)</text>
<text x="186.9" y="32.2" font-size="12.4" text-anchor="start" font-weight="bold" font-style="normal" font-family='"Liberation Serif", "DejaVu Serif", serif'>b)</text>
<text x="352.4" y="31.6" font-size="12.4" text-anchor="start" font-weight="bold" font-style="normal" font-family='"Liberation Serif", "DejaVu Serif", serif'>c)</text>
<text x="512.6" y="31.6" font-size="12.4" text-anchor="start" font-weight="bold" font-style="normal" font-family='"Liberation Serif", "DejaVu Serif", serif'>d)</text>
<text x="25.6" y="180.9" font-size="12.4" text-anchor="start" font-weight="bold" font-style="normal" font-family='"Liberation Serif", "DejaVu Serif", serif'>e)</text>
<text x="186.9" y="180.9" font-size="12.4" text-anchor="start" font-weight="bold" font-style="normal" font-family='"Liberation Serif", "DejaVu Serif", serif'>f)</text>
<text x="352.4" y="181.2" font-size="12.4" text-anchor="start" font-weight="bold" font-style="normal" font-family='"Liberation Serif", "DejaVu Serif", serif'>g)</text>
<text x="512.6" y="181.2" font-size="12.4" text-anchor="start" font-weight="bold" font-style="normal" font-family='"Liberation Serif", "DejaVu Serif", serif'>h)</text>
<rect x="142.9" y="70.60" width="2.1" height="7.65" fill="#d9302a"/>
<rect x="142.9" y="78.20" width="2.1" height="7.15" fill="#ea8a2e"/>
<rect x="142.9" y="85.30" width="2.1" height="7.25" fill="#f4ab36"/>
<rect x="142.9" y="92.50" width="2.1" height="7.15" fill="#fbe54c"/>
<rect x="142.9" y="99.60" width="2.1" height="7.25" fill="#fcf8ba"/>
<rect x="142.9" y="106.80" width="2.1" height="7.15" fill="#eef0fb"/>
<rect x="142.9" y="113.90" width="2.1" height="7.15" fill="#c1cef9"/>
<rect x="142.9" y="121.00" width="2.1" height="7.25" fill="#8ea5f3"/>
<rect x="142.9" y="128.20" width="2.1" height="7.15" fill="#5f79e6"/>
<rect x="142.9" y="135.30" width="2.1" height="7.15" fill="#2b4dec"/>
<text x="145.8" y="80.4" font-size="6.5" text-anchor="start" font-weight="bold" font-style="normal" font-family='"Liberation Serif", "DejaVu Serif", serif' stroke="#000" stroke-width="0.12">0.00045</text>
<text x="145.8" y="94.7" font-size="6.5" text-anchor="start" font-weight="bold" font-style="normal" font-family='"Liberation Serif", "DejaVu Serif", serif' stroke="#000" stroke-width="0.12">0.00035</text>
<text x="145.8" y="109.0" font-size="6.5" text-anchor="start" font-weight="bold" font-style="normal" font-family='"Liberation Serif", "DejaVu Serif", serif' stroke="#000" stroke-width="0.12">0.00025</text>
<text x="145.8" y="123.2" font-size="6.5" text-anchor="start" font-weight="bold" font-style="normal" font-family='"Liberation Serif", "DejaVu Serif", serif' stroke="#000" stroke-width="0.12">0.00015</text>
<text x="145.8" y="137.5" font-size="6.5" text-anchor="start" font-weight="bold" font-style="normal" font-family='"Liberation Serif", "DejaVu Serif", serif' stroke="#000" stroke-width="0.12">0.00005</text>
<rect x="303.9" y="70.60" width="2.1" height="8.45" fill="#d9302a"/>
<rect x="303.9" y="79.00" width="2.1" height="9.25" fill="#ee9632"/>
<rect x="303.9" y="88.20" width="2.1" height="9.35" fill="#fbe54c"/>
<rect x="303.9" y="97.50" width="2.1" height="9.25" fill="#fcf8ba"/>
<rect x="303.9" y="106.70" width="2.1" height="9.35" fill="#eef0fb"/>
<rect x="303.9" y="116.00" width="2.1" height="9.25" fill="#c1cef9"/>
<rect x="303.9" y="125.20" width="2.1" height="9.35" fill="#8ea5f3"/>
<rect x="303.9" y="134.50" width="2.1" height="7.95" fill="#2b4dec"/>
<text x="306.79999999999995" y="81.2" font-size="6.5" text-anchor="start" font-weight="bold" font-style="normal" font-family='"Liberation Serif", "DejaVu Serif", serif' stroke="#000" stroke-width="0.12">0.00035</text>
<text x="306.79999999999995" y="99.7" font-size="6.5" text-anchor="start" font-weight="bold" font-style="normal" font-family='"Liberation Serif", "DejaVu Serif", serif' stroke="#000" stroke-width="0.12">0.00025</text>
<text x="306.79999999999995" y="118.2" font-size="6.5" text-anchor="start" font-weight="bold" font-style="normal" font-family='"Liberation Serif", "DejaVu Serif", serif' stroke="#000" stroke-width="0.12">0.00015</text>
<text x="306.79999999999995" y="136.7" font-size="6.5" text-anchor="start" font-weight="bold" font-style="normal" font-family='"Liberation Serif", "DejaVu Serif", serif' stroke="#000" stroke-width="0.12">0.00005</text>
<rect x="469.5" y="70.60" width="2.1" height="13.05" fill="#d9302a"/>
<rect x="469.5" y="83.60" width="2.1" height="11.85" fill="#f4ab36"/>
<rect x="469.5" y="95.40" width="2.1" height="11.95" fill="#fbe54c"/>
<rect x="469.5" y="107.30" width="2.1" height="11.85" fill="#eef0fb"/>
<rect x="469.5" y="119.10" width="2.1" height="11.85" fill="#9db1f5"/>
<rect x="469.5" y="130.90" width="2.1" height="11.75" fill="#2b4dec"/>
<text x="472.4" y="85.8" font-size="6.5" text-anchor="start" font-weight="bold" font-style="normal" font-family='"Liberation Serif", "DejaVu Serif", serif' stroke="#000" stroke-width="0.12">0.0005</text>
<text x="472.4" y="97.60000000000001" font-size="6.5" text-anchor="start" font-weight="bold" font-style="normal" font-family='"Liberation Serif", "DejaVu Serif", serif' stroke="#000" stroke-width="0.12">0.0004</text>
<text x="472.4" y="109.5" font-size="6.5" text-anchor="start" font-weight="bold" font-style="normal" font-family='"Liberation Serif", "DejaVu Serif", serif' stroke="#000" stroke-width="0.12">0.0003</text>
<text x="472.4" y="121.3" font-size="6.5" text-anchor="start" font-weight="bold" font-style="normal" font-family='"Liberation Serif", "DejaVu Serif", serif' stroke="#000" stroke-width="0.12">0.0002</text>
<text x="472.4" y="133.1" font-size="6.5" text-anchor="start" font-weight="bold" font-style="normal" font-family='"Liberation Serif", "DejaVu Serif", serif' stroke="#000" stroke-width="0.12">0.0001</text>
<rect x="629.3" y="70.60" width="2.1" height="13.05" fill="#d9302a"/>
<rect x="629.3" y="83.60" width="2.1" height="11.85" fill="#f4ab36"/>
<rect x="629.3" y="95.40" width="2.1" height="11.95" fill="#fbe54c"/>
<rect x="629.3" y="107.30" width="2.1" height="11.85" fill="#eef0fb"/>
<rect x="629.3" y="119.10" width="2.1" height="11.85" fill="#9db1f5"/>
<rect x="629.3" y="130.90" width="2.1" height="11.75" fill="#2b4dec"/>
<text x="632.1999999999999" y="85.8" font-size="6.5" text-anchor="start" font-weight="bold" font-style="normal" font-family='"Liberation Serif", "DejaVu Serif", serif' stroke="#000" stroke-width="0.12">0.0005</text>
<text x="632.1999999999999" y="97.60000000000001" font-size="6.5" text-anchor="start" font-weight="bold" font-style="normal" font-family='"Liberation Serif", "DejaVu Serif", serif' stroke="#000" stroke-width="0.12">0.0004</text>
<text x="632.1999999999999" y="109.5" font-size="6.5" text-anchor="start" font-weight="bold" font-style="normal" font-family='"Liberation Serif", "DejaVu Serif", serif' stroke="#000" stroke-width="0.12">0.0003</text>
<text x="632.1999999999999" y="121.3" font-size="6.5" text-anchor="start" font-weight="bold" font-style="normal" font-family='"Liberation Serif", "DejaVu Serif", serif' stroke="#000" stroke-width="0.12">0.0002</text>
<text x="632.1999999999999" y="133.1" font-size="6.5" text-anchor="start" font-weight="bold" font-style="normal" font-family='"Liberation Serif", "DejaVu Serif", serif' stroke="#000" stroke-width="0.12">0.0001</text>
<rect x="142.9" y="220.60" width="2.1" height="10.45" fill="#d9302a"/>
<rect x="142.9" y="231.00" width="2.1" height="10.35" fill="#ea8a2e"/>
<rect x="142.9" y="241.30" width="2.1" height="10.35" fill="#fbe54c"/>
<rect x="142.9" y="251.60" width="2.1" height="10.35" fill="#fcf8ba"/>
<rect x="142.9" y="261.90" width="2.1" height="10.35" fill="#eef0fb"/>
<rect x="142.9" y="272.20" width="2.1" height="10.35" fill="#a6b9f7"/>
<rect x="142.9" y="282.50" width="2.1" height="9.95" fill="#2b4dec"/>
<text x="145.8" y="233.2" font-size="6.5" text-anchor="start" font-weight="bold" font-style="normal" font-family='"Liberation Serif", "DejaVu Serif", serif' stroke="#000" stroke-width="0.12">0.0012</text>
<text x="145.8" y="243.5" font-size="6.5" text-anchor="start" font-weight="bold" font-style="normal" font-family='"Liberation Serif", "DejaVu Serif", serif' stroke="#000" stroke-width="0.12">0.0010</text>
<text x="145.8" y="253.79999999999998" font-size="6.5" text-anchor="start" font-weight="bold" font-style="normal" font-family='"Liberation Serif", "DejaVu Serif", serif' stroke="#000" stroke-width="0.12">0.0008</text>
<text x="145.8" y="264.09999999999997" font-size="6.5" text-anchor="start" font-weight="bold" font-style="normal" font-family='"Liberation Serif", "DejaVu Serif", serif' stroke="#000" stroke-width="0.12">0.0006</text>
<text x="145.8" y="274.4" font-size="6.5" text-anchor="start" font-weight="bold" font-style="normal" font-family='"Liberation Serif", "DejaVu Serif", serif' stroke="#000" stroke-width="0.12">0.0004</text>
<text x="145.8" y="284.7" font-size="6.5" text-anchor="start" font-weight="bold" font-style="normal" font-family='"Liberation Serif", "DejaVu Serif", serif' stroke="#000" stroke-width="0.12">0.0002</text>
<rect x="303.9" y="220.60" width="2.1" height="11.95" fill="#d9302a"/>
<rect x="303.9" y="232.50" width="2.1" height="11.95" fill="#ea8a2e"/>
<rect x="303.9" y="244.40" width="2.1" height="11.85" fill="#fbe54c"/>
<rect x="303.9" y="256.20" width="2.1" height="11.85" fill="#eef0fb"/>
<rect x="303.9" y="268.00" width="2.1" height="12.05" fill="#c1cef9"/>
<rect x="303.9" y="280.00" width="2.1" height="12.45" fill="#2b4dec"/>
<text x="306.79999999999995" y="234.7" font-size="6.5" text-anchor="start" font-weight="bold" font-style="normal" font-family='"Liberation Serif", "DejaVu Serif", serif' stroke="#000" stroke-width="0.12">0.0010</text>
<text x="306.79999999999995" y="246.6" font-size="6.5" text-anchor="start" font-weight="bold" font-style="normal" font-family='"Liberation Serif", "DejaVu Serif", serif' stroke="#000" stroke-width="0.12">0.0008</text>
<text x="306.79999999999995" y="258.4" font-size="6.5" text-anchor="start" font-weight="bold" font-style="normal" font-family='"Liberation Serif", "DejaVu Serif", serif' stroke="#000" stroke-width="0.12">0.0006</text>
<text x="306.79999999999995" y="270.2" font-size="6.5" text-anchor="start" font-weight="bold" font-style="normal" font-family='"Liberation Serif", "DejaVu Serif", serif' stroke="#000" stroke-width="0.12">0.0004</text>
<text x="306.79999999999995" y="282.2" font-size="6.5" text-anchor="start" font-weight="bold" font-style="normal" font-family='"Liberation Serif", "DejaVu Serif", serif' stroke="#000" stroke-width="0.12">0.0002</text>
<rect x="469.5" y="220.60" width="2.1" height="9.45" fill="#d9302a"/>
<rect x="469.5" y="230.00" width="2.1" height="8.90" fill="#ea8a2e"/>
<rect x="469.5" y="238.85" width="2.1" height="8.90" fill="#f4ab36"/>
<rect x="469.5" y="247.70" width="2.1" height="8.85" fill="#fbe54c"/>
<rect x="469.5" y="256.50" width="2.1" height="8.95" fill="#eef0fb"/>
<rect x="469.5" y="265.40" width="2.1" height="8.85" fill="#c1cef9"/>
<rect x="469.5" y="274.20" width="2.1" height="8.85" fill="#8ea5f3"/>
<rect x="469.5" y="283.00" width="2.1" height="9.45" fill="#2b4dec"/>
<text x="472.4" y="232.2" font-size="6.5" text-anchor="start" font-weight="bold" font-style="normal" font-family='"Liberation Serif", "DejaVu Serif", serif' stroke="#000" stroke-width="0.12">0.0014</text>
<text x="472.4" y="249.89999999999998" font-size="6.5" text-anchor="start" font-weight="bold" font-style="normal" font-family='"Liberation Serif", "DejaVu Serif", serif' stroke="#000" stroke-width="0.12">0.0010</text>
<text x="472.4" y="267.59999999999997" font-size="6.5" text-anchor="start" font-weight="bold" font-style="normal" font-family='"Liberation Serif", "DejaVu Serif", serif' stroke="#000" stroke-width="0.12">0.0006</text>
<text x="472.4" y="285.2" font-size="6.5" text-anchor="start" font-weight="bold" font-style="normal" font-family='"Liberation Serif", "DejaVu Serif", serif' stroke="#000" stroke-width="0.12">0.0002</text>
<rect x="629.3" y="220.60" width="2.1" height="9.45" fill="#d9302a"/>
<rect x="629.3" y="230.00" width="2.1" height="8.90" fill="#ea8a2e"/>
<rect x="629.3" y="238.85" width="2.1" height="8.90" fill="#f4ab36"/>
<rect x="629.3" y="247.70" width="2.1" height="8.85" fill="#fbe54c"/>
<rect x="629.3" y="256.50" width="2.1" height="8.95" fill="#eef0fb"/>
<rect x="629.3" y="265.40" width="2.1" height="8.85" fill="#c1cef9"/>
<rect x="629.3" y="274.20" width="2.1" height="8.85" fill="#8ea5f3"/>
<rect x="629.3" y="283.00" width="2.1" height="9.45" fill="#2b4dec"/>
<text x="632.1999999999999" y="232.2" font-size="6.5" text-anchor="start" font-weight="bold" font-style="normal" font-family='"Liberation Serif", "DejaVu Serif", serif' stroke="#000" stroke-width="0.12">0.0014</text>
<text x="632.1999999999999" y="249.89999999999998" font-size="6.5" text-anchor="start" font-weight="bold" font-style="normal" font-family='"Liberation Serif", "DejaVu Serif", serif' stroke="#000" stroke-width="0.12">0.0010</text>
<text x="632.1999999999999" y="267.59999999999997" font-size="6.5" text-anchor="start" font-weight="bold" font-style="normal" font-family='"Liberation Serif", "DejaVu Serif", serif' stroke="#000" stroke-width="0.12">0.0006</text>
<text x="632.1999999999999" y="285.2" font-size="6.5" text-anchor="start" font-weight="bold" font-style="normal" font-family='"Liberation Serif", "DejaVu Serif", serif' stroke="#000" stroke-width="0.12">0.0002</text>
<rect x="118.1" y="22.4" width="45.900000000000006" height="45.6" fill="#f4f4f4" stroke="#c8c8c8" stroke-width="0.8"/>
<clipPath id="c11"><rect x="119.0" y="23.299999999999997" width="44.10000000000001" height="43.800000000000004"/></clipPath>
<g clip-path="url(#c11)">
<rect x="118.1" y="22.4" width="45.900000000000006" height="45.6" fill="#4aa620"/>
<polygon points="140.60,-25.10 134.19,-24.81 127.84,-23.93 121.60,-22.47 115.51,-20.45 109.64,-17.88 104.03,-14.78 140.60,44.90" fill="#020502" stroke="#020502" stroke-width="0.3"/><polygon points="104.03,-14.78 98.01,-10.65 92.45,-5.91 87.42,-0.62 82.97,5.17 79.14,11.39 140.60,44.90" fill="#0a7614" stroke="#0a7614" stroke-width="0.3"/><polygon points="79.14,11.39 76.11,17.68 73.72,24.25 71.99,31.02 70.95,37.92 70.60,44.90 140.60,44.90" fill="#2e9a1e" stroke="#2e9a1e" stroke-width="0.3"/><polygon points="70.60,44.90 70.95,51.88 71.99,58.78 73.72,65.55 76.11,72.12 79.14,78.41 140.60,44.90" fill="#6cb422" stroke="#6cb422" stroke-width="0.3"/><polygon points="79.14,78.41 82.80,84.39 87.04,89.97 91.82,95.10 97.08,99.73 102.78,103.81 140.60,44.90" fill="#aacf2a" stroke="#aacf2a" stroke-width="0.3"/><polygon points="102.78,103.81 108.55,107.13 114.60,109.89 120.89,112.07 127.36,113.64 133.95,114.58 140.60,114.90 140.60,44.90" fill="#f4f23a" stroke="#f4f23a" stroke-width="0.3"/><polygon points="140.60,114.90 147.01,114.61 153.36,113.73 159.60,112.27 165.69,110.25 171.56,107.68 177.17,104.58 140.60,44.90" fill="#020502" stroke="#020502" stroke-width="0.3"/><polygon points="177.17,104.58 183.19,100.45 188.75,95.71 193.78,90.42 198.23,84.63 202.06,78.41 140.60,44.90" fill="#0a7614" stroke="#0a7614" stroke-width="0.3"/><polygon points="202.06,78.41 205.09,72.12 207.48,65.55 209.21,58.78 210.25,51.88 210.60,44.90 140.60,44.90" fill="#2e9a1e" stroke="#2e9a1e" stroke-width="0.3"/><polygon points="210.60,44.90 210.25,37.92 209.21,31.02 207.48,24.25 205.09,17.68 202.06,11.39 140.60,44.90" fill="#6cb422" stroke="#6cb422" stroke-width="0.3"/><polygon points="202.06,11.39 198.40,5.41 194.16,-0.17 189.38,-5.30 184.12,-9.93 178.42,-14.01 140.60,44.90" fill="#aacf2a" stroke="#aacf2a" stroke-width="0.3"/><polygon points="178.42,-14.01 172.65,-17.33 166.60,-20.09 160.31,-22.27 153.84,-23.84 147.25,-24.78 140.60,-25.10 140.60,44.90" fill="#f4f23a" stroke="#f4f23a" stroke-width="0.3"/><linearGradient id="g9" x1="0" y1="0" x2="0" y2="1"><stop offset="0.00" stop-color="#020502"/><stop offset="0.33" stop-color="#0a7014"/><stop offset="0.67" stop-color="#6cb422"/><stop offset="1.00" stop-color="#f4f23a"/></linearGradient><rect x="3" y="-1.75" width="37" height="3.5" fill="url(#g9)" transform="translate(141.04999999999998 44.9) rotate(-90)"/><linearGradient id="g10" x1="0" y1="0" x2="0" y2="1"><stop offset="0.00" stop-color="#020502"/><stop offset="0.33" stop-color="#0a7014"/><stop offset="0.67" stop-color="#6cb422"/><stop offset="1.00" stop-color="#f4f23a"/></linearGradient><rect x="3" y="-1.75" width="37" height="3.5" fill="url(#g10)" transform="translate(141.04999999999998 44.9) rotate(-270)"/>
</g>
<linearGradient id="g12" x1="0" y1="0" x2="0" y2="1"><stop offset="0" stop-color="#f8f690"/><stop offset="0.3" stop-color="#c4de62"/><stop offset="0.55" stop-color="#86c060"/><stop offset="0.8" stop-color="#5a9a5a"/><stop offset="1" stop-color="#444"/></linearGradient>
<rect x="166.2" y="24.4" width="1.8" height="41.1" fill="url(#g12)"/>
<line x1="168.0" y1="31.00" x2="168.7" y2="31.00" stroke="#666" stroke-width="0.4"/>
<text x="169.0" y="32.30" font-size="3.9" font-weight="bold" font-family='"Liberation Serif", "DejaVu Serif", serif' fill="#444">2</text>
<line x1="168.0" y1="37.90" x2="168.7" y2="37.90" stroke="#666" stroke-width="0.4"/>
<text x="169.0" y="39.20" font-size="3.9" font-weight="bold" font-family='"Liberation Serif", "DejaVu Serif", serif' fill="#444">1</text>
<line x1="168.0" y1="44.80" x2="168.7" y2="44.80" stroke="#666" stroke-width="0.4"/>
<text x="169.0" y="46.10" font-size="3.9" font-weight="bold" font-family='"Liberation Serif", "DejaVu Serif", serif' fill="#444">0</text>
<line x1="168.0" y1="51.70" x2="168.7" y2="51.70" stroke="#666" stroke-width="0.4"/>
<text x="168.7" y="53.00" font-size="3.9" font-weight="bold" font-family='"Liberation Serif", "DejaVu Serif", serif' fill="#444">−1</text>
<line x1="168.0" y1="58.60" x2="168.7" y2="58.60" stroke="#666" stroke-width="0.4"/>
<text x="168.7" y="59.90" font-size="3.9" font-weight="bold" font-family='"Liberation Serif", "DejaVu Serif", serif' fill="#444">−2</text>
<rect x="118.1" y="170.4" width="45.900000000000006" height="45.599999999999994" fill="#f4f4f4" stroke="#c8c8c8" stroke-width="0.8"/>
<clipPath id="c15"><rect x="119.0" y="171.3" width="44.10000000000001" height="43.8"/></clipPath>
<g clip-path="url(#c15)">
<rect x="118.1" y="170.4" width="45.900000000000006" height="45.599999999999994" fill="#4aa620"/>
<polygon points="211.15,189.24 210.46,182.43 209.11,175.73 207.11,169.19 204.48,162.87 201.25,156.85 141.25,192.90" fill="#020502" stroke="#020502" stroke-width="0.3"/><polygon points="201.25,156.85 197.40,151.10 193.00,145.76 188.09,140.88 182.72,136.51 176.95,132.69 170.83,129.46 141.25,192.90" fill="#0a7614" stroke="#0a7614" stroke-width="0.3"/><polygon points="170.83,129.46 164.82,126.99 158.61,125.09 152.25,123.77 145.79,123.05 139.30,122.93 141.25,192.90" fill="#2e9a1e" stroke="#2e9a1e" stroke-width="0.3"/><polygon points="139.30,122.93 132.99,123.39 126.74,124.42 120.62,126.01 114.67,128.14 108.93,130.81 141.25,192.90" fill="#6cb422" stroke="#6cb422" stroke-width="0.3"/><polygon points="108.93,130.81 102.72,134.46 96.91,138.73 91.58,143.58 86.77,148.94 82.54,154.78 141.25,192.90" fill="#aacf2a" stroke="#aacf2a" stroke-width="0.3"/><polygon points="82.54,154.78 79.36,160.19 76.68,165.87 74.52,171.77 72.89,177.83 71.82,184.02 71.30,190.28 71.35,196.56 141.25,192.90" fill="#f4f23a" stroke="#f4f23a" stroke-width="0.3"/><polygon points="71.35,196.56 72.04,203.37 73.39,210.07 75.39,216.61 78.02,222.93 81.25,228.95 141.25,192.90" fill="#020502" stroke="#020502" stroke-width="0.3"/><polygon points="81.25,228.95 85.10,234.70 89.50,240.04 94.41,244.92 99.78,249.29 105.55,253.11 111.67,256.34 141.25,192.90" fill="#0a7614" stroke="#0a7614" stroke-width="0.3"/><polygon points="111.67,256.34 117.68,258.81 123.89,260.71 130.25,262.03 136.71,262.75 143.20,262.87 141.25,192.90" fill="#2e9a1e" stroke="#2e9a1e" stroke-width="0.3"/><polygon points="143.20,262.87 149.51,262.41 155.76,261.38 161.88,259.79 167.83,257.66 173.57,254.99 141.25,192.90" fill="#6cb422" stroke="#6cb422" stroke-width="0.3"/><polygon points="173.57,254.99 179.78,251.34 185.59,247.07 190.92,242.22 195.73,236.86 199.96,231.02 141.25,192.90" fill="#aacf2a" stroke="#aacf2a" stroke-width="0.3"/><polygon points="199.96,231.02 203.14,225.61 205.82,219.93 207.98,214.03 209.61,207.97 210.68,201.78 211.20,195.52 211.15,189.24 141.25,192.90" fill="#f4f23a" stroke="#f4f23a" stroke-width="0.3"/><linearGradient id="g13" x1="0" y1="0" x2="0" y2="1"><stop offset="0.00" stop-color="#020502"/><stop offset="0.33" stop-color="#0a7014"/><stop offset="0.67" stop-color="#6cb422"/><stop offset="1.00" stop-color="#f4f23a"/></linearGradient><rect x="3" y="-1.75" width="37" height="3.5" fill="url(#g13)" transform="translate(141.2735511803093 193.34938329063957) rotate(-3)"/><linearGradient id="g14" x1="0" y1="0" x2="0" y2="1"><stop offset="0.00" stop-color="#020502"/><stop offset="0.33" stop-color="#0a7014"/><stop offset="0.67" stop-color="#6cb422"/><stop offset="1.00" stop-color="#f4f23a"/></linearGradient><rect x="3" y="-1.75" width="37" height="3.5" fill="url(#g14)" transform="translate(141.2735511803093 193.34938329063957) rotate(-183)"/>
</g>
<linearGradient id="g16" x1="0" y1="0" x2="0" y2="1"><stop offset="0" stop-color="#f8f690"/><stop offset="0.3" stop-color="#c4de62"/><stop offset="0.55" stop-color="#86c060"/><stop offset="0.8" stop-color="#5a9a5a"/><stop offset="1" stop-color="#444"/></linearGradient>
<rect x="166.2" y="172.4" width="1.8" height="41.099999999999994" fill="url(#g16)"/>
<line x1="168.0" y1="177.40" x2="168.7" y2="177.40" stroke="#666" stroke-width="0.4"/>
<text x="169.0" y="178.70" font-size="3.9" font-weight="bold" font-family='"Liberation Serif", "DejaVu Serif", serif' fill="#444">3</text>
<line x1="168.0" y1="183.60" x2="168.7" y2="183.60" stroke="#666" stroke-width="0.4"/>
<text x="169.0" y="184.90" font-size="3.9" font-weight="bold" font-family='"Liberation Serif", "DejaVu Serif", serif' fill="#444">2</text>
<line x1="168.0" y1="189.80" x2="168.7" y2="189.80" stroke="#666" stroke-width="0.4"/>
<text x="169.0" y="191.10" font-size="3.9" font-weight="bold" font-family='"Liberation Serif", "DejaVu Serif", serif' fill="#444">1</text>
<line x1="168.0" y1="196.00" x2="168.7" y2="196.00" stroke="#666" stroke-width="0.4"/>
<text x="169.0" y="197.30" font-size="3.9" font-weight="bold" font-family='"Liberation Serif", "DejaVu Serif", serif' fill="#444">0</text>
<line x1="168.0" y1="202.20" x2="168.7" y2="202.20" stroke="#666" stroke-width="0.4"/>
<text x="168.7" y="203.50" font-size="3.9" font-weight="bold" font-family='"Liberation Serif", "DejaVu Serif", serif' fill="#444">−1</text>
<line x1="168.0" y1="208.40" x2="168.7" y2="208.40" stroke="#666" stroke-width="0.4"/>
<text x="168.7" y="209.70" font-size="3.9" font-weight="bold" font-family='"Liberation Serif", "DejaVu Serif", serif' fill="#444">−2</text>
<rect x="279.75" y="22.4" width="45.85000000000002" height="45.6" fill="#f4f4f4" stroke="#c8c8c8" stroke-width="0.8"/>
<clipPath id="c17"><rect x="280.65" y="23.299999999999997" width="44.050000000000026" height="43.800000000000004"/></clipPath>
<g clip-path="url(#c17)">
<rect x="279.75" y="22.4" width="45.85000000000002" height="45.6" fill="#4aa620"/>
<polygon points="372.75,44.90 372.41,37.99 371.39,31.14 369.69,24.43 302.75,44.90" fill="#053a0a" stroke="#053a0a" stroke-width="0.3"/><polygon points="369.69,24.43 367.65,18.68 365.12,13.12 362.11,7.81 358.65,2.77 302.75,44.90" fill="#0a7614" stroke="#0a7614" stroke-width="0.3"/><polygon points="358.65,2.77 355.18,-1.48 351.38,-5.45 347.28,-9.11 342.90,-12.44 302.75,44.90" fill="#2e9a1e" stroke="#2e9a1e" stroke-width="0.3"/><polygon points="342.90,-12.44 337.04,-16.12 330.85,-19.21 324.38,-21.67 302.75,44.90" fill="#6cb422" stroke="#6cb422" stroke-width="0.3"/><polygon points="324.38,-21.67 319.68,-23.02 314.91,-24.04 310.07,-24.72 302.75,44.90" fill="#aacf2a" stroke="#aacf2a" stroke-width="0.3"/><polygon points="310.07,-24.72 306.41,-25.00 302.75,-25.10 302.75,44.90" fill="#c0d838" stroke="#c0d838" stroke-width="0.3"/><polygon points="302.75,-25.10 298.48,-24.97 294.22,-24.58 302.75,44.90" fill="#0a7614" stroke="#0a7614" stroke-width="0.3"/><polygon points="294.22,-24.58 288.20,-23.57 282.28,-22.04 276.53,-20.00 302.75,44.90" fill="#0a7614" stroke="#0a7614" stroke-width="0.3"/><polygon points="276.53,-20.00 270.97,-17.47 265.66,-14.46 260.62,-11.00 302.75,44.90" fill="#2e9a1e" stroke="#2e9a1e" stroke-width="0.3"/><polygon points="260.62,-11.00 256.21,-7.39 252.11,-3.43 248.35,0.85 302.75,44.90" fill="#6cb422" stroke="#6cb422" stroke-width="0.3"/><polygon points="248.35,0.85 244.72,5.76 241.53,10.96 238.80,16.43 302.75,44.90" fill="#aacf2a" stroke="#aacf2a" stroke-width="0.3"/><polygon points="238.80,16.43 236.64,21.88 234.95,27.49 233.73,33.23 233.00,39.04 232.75,44.90 302.75,44.90" fill="#f4f23a" stroke="#f4f23a" stroke-width="0.3"/><polygon points="232.75,44.90 233.09,51.81 234.11,58.66 235.81,65.37 302.75,44.90" fill="#053a0a" stroke="#053a0a" stroke-width="0.3"/><polygon points="235.81,65.37 237.85,71.12 240.38,76.68 243.39,81.99 246.85,87.03 302.75,44.90" fill="#0a7614" stroke="#0a7614" stroke-width="0.3"/><polygon points="246.85,87.03 250.32,91.28 254.12,95.25 258.22,98.91 262.60,102.24 302.75,44.90" fill="#2e9a1e" stroke="#2e9a1e" stroke-width="0.3"/><polygon points="262.60,102.24 268.46,105.92 274.65,109.01 281.12,111.47 302.75,44.90" fill="#6cb422" stroke="#6cb422" stroke-width="0.3"/><polygon points="281.12,111.47 285.82,112.82 290.59,113.84 295.43,114.52 302.75,44.90" fill="#aacf2a" stroke="#aacf2a" stroke-width="0.3"/><polygon points="295.43,114.52 299.09,114.80 302.75,114.90 302.75,44.90" fill="#c0d838" stroke="#c0d838" stroke-width="0.3"/><polygon points="302.75,114.90 307.02,114.77 311.28,114.38 302.75,44.90" fill="#0a7614" stroke="#0a7614" stroke-width="0.3"/><polygon points="311.28,114.38 317.30,113.37 323.22,111.84 328.97,109.80 302.75,44.90" fill="#0a7614" stroke="#0a7614" stroke-width="0.3"/><polygon points="328.97,109.80 334.53,107.27 339.84,104.26 344.88,100.80 302.75,44.90" fill="#2e9a1e" stroke="#2e9a1e" stroke-width="0.3"/><polygon points="344.88,100.80 349.29,97.19 353.39,93.23 357.15,88.95 302.75,44.90" fill="#6cb422" stroke="#6cb422" stroke-width="0.3"/><polygon points="357.15,88.95 360.78,84.04 363.97,78.84 366.70,73.37 302.75,44.90" fill="#aacf2a" stroke="#aacf2a" stroke-width="0.3"/><polygon points="366.70,73.37 368.86,67.92 370.55,62.31 371.77,56.57 372.50,50.76 372.75,44.90 302.75,44.90" fill="#f4f23a" stroke="#f4f23a" stroke-width="0.3"/><polygon points="372.75,44.90 372.45,38.39 371.54,31.94 370.04,25.61 302.75,44.90" fill="#042c07" stroke="#042c07" stroke-width="0.3"/><polygon points="232.75,44.90 233.05,51.41 233.96,57.86 235.46,64.19 302.75,44.90" fill="#042c07" stroke="#042c07" stroke-width="0.3"/><polygon points="372.75,44.90 372.72,42.76 372.62,40.63 302.75,44.90" fill="#020502" stroke="#020502" stroke-width="0.3"/><polygon points="232.75,44.90 232.78,47.04 232.88,49.17 302.75,44.90" fill="#020502" stroke="#020502" stroke-width="0.3"/><polygon points="302.75,-25.10 299.09,-25.00 295.43,-24.72 301.29,30.98 302.02,30.92 302.75,30.90" fill="#053a0a" stroke="#053a0a" stroke-width="0.3"/><polygon points="302.75,114.90 306.41,114.80 310.07,114.52 304.21,58.82 303.48,58.88 302.75,58.90" fill="#053a0a" stroke="#053a0a" stroke-width="0.3"/><polygon points="302.75,30.90 302.14,30.91 301.53,30.95 301.97,35.93 302.36,35.91 302.75,35.90" fill="#0a7614" stroke="#0a7614" stroke-width="0.3"/><polygon points="302.75,58.90 303.36,58.89 303.97,58.85 303.53,53.87 303.14,53.89 302.75,53.90" fill="#0a7614" stroke="#0a7614" stroke-width="0.3"/>
</g>
<linearGradient id="g18" x1="0" y1="0" x2="0" y2="1"><stop offset="0" stop-color="#f8f690"/><stop offset="0.3" stop-color="#c4de62"/><stop offset="0.55" stop-color="#86c060"/><stop offset="0.8" stop-color="#5a9a5a"/><stop offset="1" stop-color="#444"/></linearGradient>
<rect x="327.8" y="24.4" width="1.8" height="41.1" fill="url(#g18)"/>
<line x1="329.6" y1="29.75" x2="330.3" y2="29.75" stroke="#666" stroke-width="0.4"/>
<text x="330.6" y="31.05" font-size="3.9" font-weight="bold" font-family='"Liberation Serif", "DejaVu Serif", serif' fill="#444">2</text>
<line x1="329.6" y1="35.75" x2="330.3" y2="35.75" stroke="#666" stroke-width="0.4"/>
<text x="330.6" y="37.05" font-size="3.9" font-weight="bold" font-family='"Liberation Serif", "DejaVu Serif", serif' fill="#444">1</text>
<line x1="329.6" y1="41.75" x2="330.3" y2="41.75" stroke="#666" stroke-width="0.4"/>
<text x="330.6" y="43.05" font-size="3.9" font-weight="bold" font-family='"Liberation Serif", "DejaVu Serif", serif' fill="#444">0</text>
<line x1="329.6" y1="47.75" x2="330.3" y2="47.75" stroke="#666" stroke-width="0.4"/>
<text x="330.3" y="49.05" font-size="3.9" font-weight="bold" font-family='"Liberation Serif", "DejaVu Serif", serif' fill="#444">−1</text>
<line x1="329.6" y1="53.75" x2="330.3" y2="53.75" stroke="#666" stroke-width="0.4"/>
<text x="330.3" y="55.05" font-size="3.9" font-weight="bold" font-family='"Liberation Serif", "DejaVu Serif", serif' fill="#444">−2</text>
<line x1="329.6" y1="59.75" x2="330.3" y2="59.75" stroke="#666" stroke-width="0.4"/>
<text x="330.3" y="61.05" font-size="3.9" font-weight="bold" font-family='"Liberation Serif", "DejaVu Serif", serif' fill="#444">−3</text>
<rect x="280.25" y="170.4" width="45.35000000000002" height="45.599999999999994" fill="#f4f4f4" stroke="#c8c8c8" stroke-width="0.8"/>
<clipPath id="c21"><rect x="281.15" y="171.3" width="43.550000000000026" height="43.8"/></clipPath>
<g clip-path="url(#c21)">
<rect x="280.25" y="170.4" width="45.35000000000002" height="45.599999999999994" fill="#4aa620"/>
<polygon points="372.10,204.04 372.92,197.30 373.08,190.50 372.58,183.72 303.10,192.25" fill="#2e9a1e" stroke="#2e9a1e" stroke-width="0.3"/><polygon points="372.58,183.72 371.81,178.89 370.71,174.13 369.29,169.46 303.10,192.25" fill="#6cb422" stroke="#6cb422" stroke-width="0.3"/><polygon points="369.29,169.46 367.38,164.52 365.10,159.75 362.46,155.16 303.10,192.25" fill="#aacf2a" stroke="#aacf2a" stroke-width="0.3"/><polygon points="362.46,155.16 358.40,149.33 353.76,143.94 348.60,139.06 342.98,134.72 336.94,130.97 330.55,127.86 323.88,125.41 317.00,123.64 309.98,122.59 302.88,122.25 295.78,122.63 303.10,192.25" fill="#f4f23a" stroke="#f4f23a" stroke-width="0.3"/><polygon points="295.78,122.63 289.86,123.51 284.04,124.89 278.36,126.77 272.85,129.12 267.57,131.94 303.10,192.25" fill="#f4f23a" stroke="#f4f23a" stroke-width="0.3"/><polygon points="267.57,131.94 262.29,135.38 257.34,139.28 252.76,143.61 248.59,148.33 244.86,153.41 303.10,192.25" fill="#053a0a" stroke="#053a0a" stroke-width="0.3"/><polygon points="244.86,153.41 241.38,159.23 238.48,165.35 303.10,192.25" fill="#0a7614" stroke="#0a7614" stroke-width="0.3"/><polygon points="238.48,165.35 236.43,170.93 234.86,176.66 233.78,182.51 303.10,192.25" fill="#2e9a1e" stroke="#2e9a1e" stroke-width="0.3"/><polygon points="233.78,182.51 233.21,188.28 233.12,194.08 233.52,199.87 234.39,205.61 303.10,192.25" fill="#6cb422" stroke="#6cb422" stroke-width="0.3"/><polygon points="234.39,205.61 235.59,210.76 237.18,215.81 239.15,220.72 303.10,192.25" fill="#aacf2a" stroke="#aacf2a" stroke-width="0.3"/><polygon points="239.15,220.72 242.20,226.76 245.81,232.48 249.96,237.82 254.61,242.73 259.71,247.18 265.21,251.11 271.07,254.49 277.23,257.29 283.62,259.49 290.20,261.05 296.91,261.98 303.66,262.25 310.42,261.87 303.10,192.25" fill="#f4f23a" stroke="#f4f23a" stroke-width="0.3"/><polygon points="310.42,261.87 316.64,260.93 322.75,259.44 328.70,257.40 334.44,254.84 303.10,192.25" fill="#f4f23a" stroke="#f4f23a" stroke-width="0.3"/><polygon points="334.44,254.84 340.34,251.52 345.89,247.65 351.04,243.25 355.75,238.38 359.96,233.08 363.63,227.40 366.75,221.39 303.10,192.25" fill="#053a0a" stroke="#053a0a" stroke-width="0.3"/><polygon points="366.75,221.39 369.03,215.77 370.82,209.97 372.10,204.04 303.10,192.25" fill="#0a7614" stroke="#0a7614" stroke-width="0.3"/><polygon points="305.70,170.25 314.70,170.25 314.70,172.75 313.58,172.75 313.58,175.25 312.45,175.25 312.45,177.75 311.33,177.75 311.33,180.25 310.20,180.25 310.20,182.75 309.08,182.75 309.08,185.25 307.95,185.25 307.95,187.75 306.83,187.75 306.83,190.25 305.70,190.25 305.70,190.25" fill="#020502"/><polygon points="301.10,216.75 290.50,216.75 290.50,213.94 291.82,213.94 291.82,211.12 293.15,211.12 293.15,208.31 294.48,208.31 294.48,205.50 295.80,205.50 295.80,202.69 297.12,202.69 297.12,199.88 298.45,199.88 298.45,197.06 299.78,197.06 299.78,194.25 301.10,194.25 301.10,194.25" fill="#020502"/><linearGradient id="g19" x1="0" y1="0" x2="0" y2="1"><stop offset="0.00" stop-color="#f4f23a"/><stop offset="0.33" stop-color="#6cb422"/><stop offset="0.67" stop-color="#0a7014"/><stop offset="1.00" stop-color="#020502"/></linearGradient><rect x="3" y="-2.7" width="37" height="5.4" fill="url(#g19)" transform="translate(303.40000000000003 192.25) rotate(-89.5)"/><linearGradient id="g20" x1="0" y1="0" x2="0" y2="1"><stop offset="0.00" stop-color="#f4f23a"/><stop offset="0.33" stop-color="#6cb422"/><stop offset="0.67" stop-color="#0a7014"/><stop offset="1.00" stop-color="#020502"/></linearGradient><rect x="3" y="-2.7" width="37" height="5.4" fill="url(#g20)" transform="translate(303.40000000000003 192.25) rotate(-270.5)"/>
</g>
<linearGradient id="g22" x1="0" y1="0" x2="0" y2="1"><stop offset="0" stop-color="#f8f690"/><stop offset="0.3" stop-color="#c4de62"/><stop offset="0.55" stop-color="#86c060"/><stop offset="0.8" stop-color="#5a9a5a"/><stop offset="1" stop-color="#444"/></linearGradient>
<rect x="327.8" y="172.4" width="1.8" height="41.099999999999994" fill="url(#g22)"/>
<line x1="329.6" y1="177.90" x2="330.3" y2="177.90" stroke="#666" stroke-width="0.4"/>
<text x="330.6" y="179.20" font-size="3.9" font-weight="bold" font-family='"Liberation Serif", "DejaVu Serif", serif' fill="#444">3</text>
<line x1="329.6" y1="188.50" x2="330.3" y2="188.50" stroke="#666" stroke-width="0.4"/>
<text x="330.6" y="189.80" font-size="3.9" font-weight="bold" font-family='"Liberation Serif", "DejaVu Serif", serif' fill="#444">1</text>
<line x1="329.6" y1="199.10" x2="330.3" y2="199.10" stroke="#666" stroke-width="0.4"/>
<text x="330.3" y="200.40" font-size="3.9" font-weight="bold" font-family='"Liberation Serif", "DejaVu Serif", serif' fill="#444">−1</text>
<line x1="329.6" y1="209.70" x2="330.3" y2="209.70" stroke="#666" stroke-width="0.4"/>
<text x="330.3" y="211.00" font-size="3.9" font-weight="bold" font-family='"Liberation Serif", "DejaVu Serif", serif' fill="#444">−3</text>
<rect x="443.75" y="22" width="45.85000000000002" height="45.900000000000006" fill="#f4f4f4" stroke="#c8c8c8" stroke-width="0.8"/>
<clipPath id="c27"><rect x="444.65" y="22.9" width="44.050000000000026" height="44.10000000000001"/></clipPath>
<g clip-path="url(#c27)">
<rect x="443.75" y="22" width="45.85000000000002" height="45.900000000000006" fill="#4aa620"/>
<polygon points="536.90,45.40 536.57,38.62 535.59,31.90 533.95,25.31 531.69,18.91 528.82,12.75 525.37,6.91 521.36,1.42 516.84,-3.65 511.86,-8.25 506.45,-12.36 466.90,45.40" fill="#6cb422" stroke="#6cb422" stroke-width="0.3"/><polygon points="506.45,-12.36 500.39,-16.07 493.99,-19.15 487.31,-21.56 480.42,-23.28 473.39,-24.30 466.29,-24.60 466.90,45.40" fill="#aacf2a" stroke="#aacf2a" stroke-width="0.3"/><polygon points="466.29,-24.60 459.51,-24.21 452.80,-23.17 446.22,-21.48 439.84,-19.16 433.71,-16.23 466.90,45.40" fill="#0a7614" stroke="#0a7614" stroke-width="0.3"/><polygon points="433.71,-16.23 427.85,-12.69 422.36,-8.60 417.29,-3.99 412.70,1.10 408.63,6.61 405.12,12.49 402.20,18.68 399.90,25.14 398.24,31.78 397.24,38.56 396.90,45.40 466.90,45.40" fill="#2e9a1e" stroke="#2e9a1e" stroke-width="0.3"/><polygon points="396.90,45.40 397.23,52.18 398.21,58.90 399.85,65.49 402.11,71.89 404.98,78.05 408.43,83.89 412.44,89.38 416.96,94.45 421.94,99.05 427.35,103.16 466.90,45.40" fill="#6cb422" stroke="#6cb422" stroke-width="0.3"/><polygon points="427.35,103.16 433.41,106.87 439.81,109.95 446.49,112.36 453.38,114.08 460.41,115.10 467.51,115.40 466.90,45.40" fill="#aacf2a" stroke="#aacf2a" stroke-width="0.3"/><polygon points="467.51,115.40 474.29,115.01 481.00,113.97 487.58,112.28 493.96,109.96 500.09,107.03 466.90,45.40" fill="#0a7614" stroke="#0a7614" stroke-width="0.3"/><polygon points="500.09,107.03 505.95,103.49 511.44,99.40 516.51,94.79 521.10,89.70 525.17,84.19 528.68,78.31 531.60,72.12 533.90,65.66 535.56,59.02 536.56,52.24 536.90,45.40 466.90,45.40" fill="#2e9a1e" stroke="#2e9a1e" stroke-width="0.3"/><linearGradient id="g23" x1="0" y1="0" x2="0" y2="1"><stop offset="0.00" stop-color="#0a7614"/><stop offset="0.50" stop-color="#2e9a1e"/><stop offset="1.00" stop-color="#aacf2a"/></linearGradient><rect x="10" y="-0.8" width="30" height="1.6" fill="url(#g23)" transform="translate(466.9 45.4) rotate(-90)"/><linearGradient id="g24" x1="0" y1="0" x2="0" y2="1"><stop offset="0.00" stop-color="#0a7614"/><stop offset="0.50" stop-color="#2e9a1e"/><stop offset="1.00" stop-color="#aacf2a"/></linearGradient><rect x="10" y="-0.8" width="30" height="1.6" fill="url(#g24)" transform="translate(466.9 45.4) rotate(-270)"/><clipPath id="c25"><rect x="446.9" y="25.4" width="40" height="20"/></clipPath><clipPath id="c26"><rect x="446.9" y="45.4" width="40" height="20"/></clipPath><rect x="457.29999999999995" y="35.0" width="8.6" height="9.0" rx="2.2" fill="#aacf2a"/><rect x="458.29999999999995" y="35.8" width="6.9" height="7.0" rx="1.6" fill="#f4f23a"/><ellipse cx="471.9" cy="43.9" rx="5.0" ry="8.2" fill="#053a0a" clip-path="url(#c25)"/><ellipse cx="471.29999999999995" cy="44.4" rx="3.0" ry="5.6" fill="#031f05" clip-path="url(#c25)"/><ellipse cx="461.5" cy="46.4" rx="4.7" ry="7.6" fill="#053a0a" clip-path="url(#c26)"/><rect x="467.5" y="46.4" width="9.2" height="9.2" rx="2.2" fill="#aacf2a"/><rect x="468.4" y="47.199999999999996" width="7.0" height="7.2" rx="1.6" fill="#f4f23a"/><rect x="454.7" y="44.699999999999996" width="24" height="1.4" fill="#020502"/>
</g>
<linearGradient id="g28" x1="0" y1="0" x2="0" y2="1"><stop offset="0" stop-color="#f8f690"/><stop offset="0.3" stop-color="#c4de62"/><stop offset="0.55" stop-color="#86c060"/><stop offset="0.8" stop-color="#5a9a5a"/><stop offset="1" stop-color="#444"/></linearGradient>
<rect x="491.8" y="24.0" width="1.8" height="41.400000000000006" fill="url(#g28)"/>
<line x1="493.6" y1="29.60" x2="494.3" y2="29.60" stroke="#666" stroke-width="0.4"/>
<text x="494.6" y="30.90" font-size="3.9" font-weight="bold" font-family='"Liberation Serif", "DejaVu Serif", serif' fill="#444">2</text>
<line x1="493.6" y1="35.75" x2="494.3" y2="35.75" stroke="#666" stroke-width="0.4"/>
<text x="494.6" y="37.05" font-size="3.9" font-weight="bold" font-family='"Liberation Serif", "DejaVu Serif", serif' fill="#444">1</text>
<line x1="493.6" y1="41.90" x2="494.3" y2="41.90" stroke="#666" stroke-width="0.4"/>
<text x="494.6" y="43.20" font-size="3.9" font-weight="bold" font-family='"Liberation Serif", "DejaVu Serif", serif' fill="#444">0</text>
<line x1="493.6" y1="48.05" x2="494.3" y2="48.05" stroke="#666" stroke-width="0.4"/>
<text x="494.3" y="49.35" font-size="3.9" font-weight="bold" font-family='"Liberation Serif", "DejaVu Serif", serif' fill="#444">−1</text>
<line x1="493.6" y1="54.20" x2="494.3" y2="54.20" stroke="#666" stroke-width="0.4"/>
<text x="494.3" y="55.50" font-size="3.9" font-weight="bold" font-family='"Liberation Serif", "DejaVu Serif", serif' fill="#444">−2</text>
<line x1="493.6" y1="60.35" x2="494.3" y2="60.35" stroke="#666" stroke-width="0.4"/>
<text x="494.3" y="61.65" font-size="3.9" font-weight="bold" font-family='"Liberation Serif", "DejaVu Serif", serif' fill="#444">−3</text>
<rect x="603.5" y="22.7" width="45.799999999999955" height="44.7" fill="#f4f4f4" stroke="#c8c8c8" stroke-width="0.8"/>
<clipPath id="c29"><rect x="604.4" y="23.599999999999998" width="43.99999999999996" height="42.900000000000006"/></clipPath>
<g clip-path="url(#c29)">
<rect x="603.5" y="22.7" width="45.799999999999955" height="44.7" fill="#4aa620"/>
<polygon points="697.00,44.30 696.62,37.03 695.49,29.83 693.62,22.80 691.02,15.99 687.73,9.49 683.79,3.37 679.23,-2.31 674.10,-7.48 668.47,-12.10 662.38,-16.10 655.92,-19.45 627.00,44.30" fill="#053a0a" stroke="#053a0a" stroke-width="0.3"/><polygon points="655.92,-19.45 649.70,-21.92 643.27,-23.78 636.69,-25.03 630.03,-25.63 623.34,-25.60 627.00,44.30" fill="#0a7614" stroke="#0a7614" stroke-width="0.3"/><polygon points="623.34,-25.60 616.25,-24.87 609.28,-23.42 602.49,-21.27 627.00,44.30" fill="#aacf2a" stroke="#aacf2a" stroke-width="0.3"/><polygon points="602.49,-21.27 595.99,-18.46 589.82,-15.01 584.02,-10.95 578.67,-6.34 573.80,-1.20 569.48,4.40 565.75,10.41 562.64,16.76 560.19,23.40 558.43,30.24 557.36,37.24 557.00,44.30 627.00,44.30" fill="#e4e834" stroke="#e4e834" stroke-width="0.3"/><polygon points="557.00,44.30 557.38,51.57 558.51,58.77 560.38,65.80 562.98,72.61 566.27,79.11 570.21,85.23 574.77,90.91 579.90,96.08 585.53,100.70 591.62,104.70 598.08,108.05 627.00,44.30" fill="#053a0a" stroke="#053a0a" stroke-width="0.3"/><polygon points="598.08,108.05 604.30,110.52 610.73,112.38 617.31,113.63 623.97,114.23 630.66,114.20 627.00,44.30" fill="#0a7614" stroke="#0a7614" stroke-width="0.3"/><polygon points="630.66,114.20 637.75,113.47 644.72,112.02 651.51,109.87 627.00,44.30" fill="#aacf2a" stroke="#aacf2a" stroke-width="0.3"/><polygon points="651.51,109.87 658.01,107.06 664.18,103.61 669.98,99.55 675.33,94.94 680.20,89.80 684.52,84.20 688.25,78.19 691.36,71.84 693.81,65.20 695.57,58.36 696.64,51.36 697.00,44.30 627.00,44.30" fill="#e4e834" stroke="#e4e834" stroke-width="0.3"/><rect x="597" y="41.699999999999996" width="30" height="2.6" fill="#ffff50"/><rect x="597" y="44.3" width="30" height="2.3" fill="#020502"/><rect x="627" y="42.699999999999996" width="30" height="2.4" fill="#020502"/><polygon points="643.45,37.49 633.81,27.85 620.19,27.85 610.55,37.49 610.55,51.11 620.19,60.75 633.81,60.75 643.45,51.11" fill="#2e9a1e"/><polygon points="643.60,44.30 643.52,42.63 643.27,40.98 642.85,39.37 642.27,37.80 641.54,36.30 640.67,34.88 639.65,33.55 638.51,32.34 637.25,31.24 635.88,30.28 634.43,29.46 632.90,28.78 631.31,28.27 629.68,27.92 628.02,27.73 626.35,27.71 624.69,27.86 627.00,44.30" fill="#7dbb26" stroke="#7dbb26" stroke-width="0.3"/><polygon points="624.69,27.86 623.21,28.14 621.76,28.55 620.35,29.09 619.00,29.75 617.72,30.54 627.00,44.30" fill="#0a7614" stroke="#0a7614" stroke-width="0.3"/><polygon points="617.72,30.54 616.42,31.51 615.22,32.60 614.14,33.81 613.17,35.11 612.34,36.51 611.65,37.97 611.11,39.50 610.72,41.08 610.48,42.68 610.40,44.30 627.00,44.30" fill="#2e9a1e" stroke="#2e9a1e" stroke-width="0.3"/><polygon points="610.40,44.30 610.48,45.96 610.73,47.60 611.14,49.20 611.71,50.76 612.43,52.26 613.30,53.67 614.30,54.99 615.43,56.20 616.68,57.30 618.03,58.26 619.46,59.09 627.00,44.30" fill="#7dbb26" stroke="#7dbb26" stroke-width="0.3"/><polygon points="619.46,59.09 621.00,59.78 622.59,60.30 624.23,60.67 625.90,60.86 627.58,60.89 627.00,44.30" fill="#aacf2a" stroke="#aacf2a" stroke-width="0.3"/><polygon points="627.58,60.89 629.25,60.75 630.90,60.43 632.51,59.96 634.07,59.32 635.55,58.53 627.00,44.30" fill="#0a7614" stroke="#0a7614" stroke-width="0.3"/><polygon points="635.55,58.53 636.97,57.57 638.28,56.48 639.47,55.26 640.53,53.92 641.45,52.47 642.21,50.95 642.81,49.35 643.25,47.69 643.51,46.01 643.60,44.30 627.00,44.30" fill="#2e9a1e" stroke="#2e9a1e" stroke-width="0.3"/><circle cx="627" cy="44.3" r="9.8" fill="#2e9a1e"/><polygon points="636.21,40.95 635.82,40.03 635.34,39.16 634.77,38.33 634.13,37.57 633.41,36.89 632.62,36.27 631.78,35.74 630.88,35.30 629.95,34.95 628.98,34.70 628.00,34.55 627.00,34.50 627.00,36.80 627.76,36.84 628.52,36.95 629.26,37.15 629.97,37.41 630.66,37.75 631.30,38.16 631.90,38.63 632.46,39.15 632.95,39.73 633.38,40.36 633.75,41.03 634.05,41.73" fill="#6cb422" stroke="#6cb422" stroke-width="0.3"/><polygon points="617.79,47.65 618.16,48.53 618.61,49.36 619.14,50.15 619.74,50.89 620.41,51.56 621.15,52.16 621.94,52.69 622.77,53.14 623.65,53.51 624.43,51.35 623.76,51.07 623.12,50.72 622.52,50.32 621.96,49.85 621.45,49.34 620.98,48.78 620.58,48.18 620.23,47.54 619.95,46.87" fill="#6cb422" stroke="#6cb422" stroke-width="0.3"/><polygon points="635.00,44.30 634.96,43.52 634.85,42.75 634.66,42.00 634.40,41.27 634.07,40.56 633.68,39.89 633.22,39.27 632.70,38.69 632.13,38.16 631.51,37.69 630.84,37.28 630.14,36.94 629.42,36.67 628.66,36.47 627.00,44.30" fill="#020502" stroke="#020502" stroke-width="0.3"/><polygon points="624.93,36.57 624.16,36.82 623.43,37.14 622.72,37.54 622.07,38.00 621.46,38.53 620.91,39.12 620.42,39.76 619.99,40.44 619.64,41.16 619.36,41.92 619.16,42.70 619.04,43.50 619.00,44.30 627.00,44.30" fill="#f4f23a" stroke="#f4f23a" stroke-width="0.3"/><polygon points="619.00,44.30 619.04,45.11 619.17,45.92 619.37,46.71 619.65,47.47 620.01,48.20 620.45,48.89 620.95,49.53 621.51,50.12 622.13,50.65 622.80,51.11 623.51,51.50 624.26,51.82 627.00,44.30" fill="#053a0a" stroke="#053a0a" stroke-width="0.3"/><polygon points="629.07,52.03 629.84,51.78 630.57,51.46 631.28,51.06 631.93,50.60 632.54,50.07 633.09,49.48 633.58,48.84 634.01,48.16 634.36,47.44 634.64,46.68 634.84,45.90 634.96,45.10 635.00,44.30 627.00,44.30" fill="#f4f23a" stroke="#f4f23a" stroke-width="0.3"/><rect x="617.5" y="43.8" width="19" height="1.1" fill="#020502"/>
</g>
<linearGradient id="g30" x1="0" y1="0" x2="0" y2="1"><stop offset="0" stop-color="#f8f690"/><stop offset="0.3" stop-color="#c4de62"/><stop offset="0.55" stop-color="#86c060"/><stop offset="0.8" stop-color="#5a9a5a"/><stop offset="1" stop-color="#444"/></linearGradient>
<rect x="651.5" y="24.7" width="1.8" height="40.2" fill="url(#g30)"/>
<line x1="653.3" y1="27.95" x2="654.0" y2="27.95" stroke="#666" stroke-width="0.4"/>
<text x="654.3" y="29.25" font-size="3.9" font-weight="bold" font-family='"Liberation Serif", "DejaVu Serif", serif' fill="#444">3</text>
<line x1="653.3" y1="38.65" x2="654.0" y2="38.65" stroke="#666" stroke-width="0.4"/>
<text x="654.3" y="39.95" font-size="3.9" font-weight="bold" font-family='"Liberation Serif", "DejaVu Serif", serif' fill="#444">1</text>
<line x1="653.3" y1="49.35" x2="654.0" y2="49.35" stroke="#666" stroke-width="0.4"/>
<text x="654.0" y="50.65" font-size="3.9" font-weight="bold" font-family='"Liberation Serif", "DejaVu Serif", serif' fill="#444">−1</text>
<line x1="653.3" y1="60.05" x2="654.0" y2="60.05" stroke="#666" stroke-width="0.4"/>
<text x="654.0" y="61.35" font-size="3.9" font-weight="bold" font-family='"Liberation Serif", "DejaVu Serif", serif' fill="#444">−3</text>
<rect x="443.4" y="170.75" width="45.85000000000002" height="45.25" fill="#f4f4f4" stroke="#c8c8c8" stroke-width="0.8"/>
<clipPath id="c31"><rect x="444.29999999999995" y="171.65" width="44.050000000000026" height="43.45"/></clipPath>
<g clip-path="url(#c31)">
<rect x="443.4" y="170.75" width="45.85000000000002" height="45.25" fill="#4aa620"/>
<polygon points="536.50,192.90 536.16,185.99 535.14,179.14 533.44,172.43 531.09,165.92 528.11,159.68 524.53,153.76 520.38,148.22 515.71,143.12 510.55,138.50 504.97,134.42 499.00,130.90 492.72,128.00 466.50,192.90" fill="#053a0a" stroke="#053a0a" stroke-width="0.3"/><polygon points="492.72,128.00 486.23,125.74 479.56,124.13 472.75,123.18 465.89,122.90 466.50,192.90" fill="#0a7614" stroke="#0a7614" stroke-width="0.3"/><polygon points="465.89,122.90 459.67,123.23 453.50,124.12 447.44,125.54 441.53,127.51 435.81,129.98 466.50,192.90" fill="#aacf2a" stroke="#aacf2a" stroke-width="0.3"/><polygon points="435.81,129.98 429.59,133.42 423.75,137.47 418.36,142.09 413.45,147.23 409.10,152.84 405.33,158.87 402.20,165.24 399.72,171.90 397.94,178.78 396.86,185.80 396.50,192.90 466.50,192.90" fill="#e4e834" stroke="#e4e834" stroke-width="0.3"/><polygon points="396.50,192.90 396.84,199.81 397.86,206.66 399.56,213.37 401.91,219.88 404.89,226.12 408.47,232.04 412.62,237.58 417.29,242.68 422.45,247.30 428.03,251.38 434.00,254.90 440.28,257.80 466.50,192.90" fill="#053a0a" stroke="#053a0a" stroke-width="0.3"/><polygon points="440.28,257.80 446.77,260.06 453.44,261.67 460.25,262.62 467.11,262.90 466.50,192.90" fill="#0a7614" stroke="#0a7614" stroke-width="0.3"/><polygon points="467.11,262.90 473.33,262.57 479.50,261.68 485.56,260.26 491.47,258.29 497.19,255.82 466.50,192.90" fill="#aacf2a" stroke="#aacf2a" stroke-width="0.3"/><polygon points="497.19,255.82 503.41,252.38 509.25,248.33 514.64,243.71 519.55,238.57 523.90,232.96 527.67,226.93 530.80,220.56 533.28,213.90 535.06,207.02 536.14,200.00 536.50,192.90 466.50,192.90" fill="#e4e834" stroke="#e4e834" stroke-width="0.3"/><rect x="436.5" y="191.4" width="30" height="2.4" fill="#ffff50"/><rect x="436.5" y="193.8" width="30" height="2.2" fill="#020502"/><rect x="466.5" y="191.5" width="30" height="1.0" fill="#020502"/><rect x="466.5" y="192.5" width="30" height="2.9" fill="#ffff50"/><polygon points="476.85,188.61 470.79,182.55 462.21,182.55 456.15,188.61 456.15,197.19 462.21,203.25 470.79,203.25 476.85,197.19" fill="#6cb422"/><polygon points="476.10,192.90 476.06,191.99 475.93,191.08 475.71,190.20 475.41,189.33 475.03,188.50 474.58,187.71 474.05,186.97 473.45,186.28 472.79,185.64 472.07,185.08 471.30,184.59 466.50,192.90" fill="#6cb422" stroke="#6cb422" stroke-width="0.3"/><polygon points="471.30,184.59 470.56,184.20 469.78,183.88 468.98,183.63 468.17,183.45 467.34,183.34 466.50,192.90" fill="#aacf2a" stroke="#aacf2a" stroke-width="0.3"/><polygon points="467.34,183.34 466.50,183.30 465.66,183.34 464.83,183.45 466.50,192.90" fill="#2e9a1e" stroke="#2e9a1e" stroke-width="0.3"/><polygon points="464.83,183.45 464.02,183.63 463.22,183.88 462.44,184.20 461.70,184.59 460.99,185.04 466.50,192.90" fill="#0a7614" stroke="#0a7614" stroke-width="0.3"/><polygon points="460.99,185.04 460.27,185.60 459.59,186.23 458.99,186.92 458.45,187.67 457.98,188.47 457.60,189.30 457.30,190.17 457.08,191.07 456.94,191.98 456.90,192.90 466.50,192.90" fill="#2e9a1e" stroke="#2e9a1e" stroke-width="0.3"/><polygon points="456.90,192.90 456.94,193.82 457.08,194.73 457.30,195.63 457.60,196.50 457.98,197.33 458.45,198.13 458.99,198.88 459.59,199.57 460.27,200.20 460.99,200.76 466.50,192.90" fill="#6cb422" stroke="#6cb422" stroke-width="0.3"/><polygon points="460.99,200.76 461.76,201.25 462.56,201.66 463.41,201.99 464.28,202.24 465.16,202.41 466.50,192.90" fill="#aacf2a" stroke="#aacf2a" stroke-width="0.3"/><polygon points="465.16,202.41 465.91,202.48 466.67,202.50 467.42,202.46 468.17,202.35 466.50,192.90" fill="#6cb422" stroke="#6cb422" stroke-width="0.3"/><polygon points="468.17,202.35 468.98,202.17 469.78,201.92 470.56,201.60 471.30,201.21 472.01,200.76 472.67,200.25 466.50,192.90" fill="#0a7614" stroke="#0a7614" stroke-width="0.3"/><polygon points="472.67,200.25 473.35,199.62 473.97,198.93 474.52,198.18 474.99,197.37 475.39,196.53 475.70,195.65 475.92,194.75 476.05,193.83 476.10,192.90 466.50,192.90" fill="#2e9a1e" stroke="#2e9a1e" stroke-width="0.3"/>
</g>
<linearGradient id="g32" x1="0" y1="0" x2="0" y2="1"><stop offset="0" stop-color="#f8f690"/><stop offset="0.3" stop-color="#c4de62"/><stop offset="0.55" stop-color="#86c060"/><stop offset="0.8" stop-color="#5a9a5a"/><stop offset="1" stop-color="#444"/></linearGradient>
<rect x="491.45" y="172.75" width="1.8" height="40.75" fill="url(#g32)"/>
<line x1="493.25" y1="177.91" x2="493.95" y2="177.91" stroke="#666" stroke-width="0.4"/>
<text x="494.25" y="179.21" font-size="3.9" font-weight="bold" font-family='"Liberation Serif", "DejaVu Serif", serif' fill="#444">3</text>
<line x1="493.25" y1="188.50" x2="493.95" y2="188.50" stroke="#666" stroke-width="0.4"/>
<text x="494.25" y="189.80" font-size="3.9" font-weight="bold" font-family='"Liberation Serif", "DejaVu Serif", serif' fill="#444">0</text>
<line x1="493.25" y1="199.09" x2="493.95" y2="199.09" stroke="#666" stroke-width="0.4"/>
<text x="493.95" y="200.39" font-size="3.9" font-weight="bold" font-family='"Liberation Serif", "DejaVu Serif", serif' fill="#444">−3</text>
<line x1="493.25" y1="209.68" x2="493.95" y2="209.68" stroke="#666" stroke-width="0.4"/>
<text x="493.95" y="210.98" font-size="3.9" font-weight="bold" font-family='"Liberation Serif", "DejaVu Serif", serif' fill="#444">−6</text>
<rect x="603.5" y="170.6" width="46.0" height="45.20000000000002" fill="#f4f4f4" stroke="#c8c8c8" stroke-width="0.8"/>
<clipPath id="c33"><rect x="604.4" y="171.5" width="44.2" height="43.40000000000002"/></clipPath>
<g clip-path="url(#c33)">
<rect x="603.5" y="170.6" width="46.0" height="45.20000000000002" fill="#4aa620"/>
<polygon points="697.00,192.00 696.68,185.35 695.74,178.75 694.16,172.28 691.99,165.98 689.22,159.92 685.89,154.16 682.02,148.73 677.66,143.69 672.84,139.10 667.60,134.98 662.00,131.38 627.00,192.00" fill="#6cb422" stroke="#6cb422" stroke-width="0.3"/><polygon points="662.00,131.38 656.58,128.56 650.94,126.22 645.12,124.39 639.16,123.06 633.10,122.27 627.00,122.00 627.00,192.00" fill="#aacf2a" stroke="#aacf2a" stroke-width="0.3"/><polygon points="627.00,122.00 619.89,122.36 612.84,123.45 605.95,125.24 599.27,127.72 592.89,130.88 586.85,134.66 627.00,192.00" fill="#0a7614" stroke="#0a7614" stroke-width="0.3"/><polygon points="586.85,134.66 581.54,138.77 576.65,143.37 572.22,148.42 568.29,153.88 564.91,159.68 562.10,165.78 559.88,172.12 558.29,178.64 557.32,185.29 557.00,192.00 627.00,192.00" fill="#2e9a1e" stroke="#2e9a1e" stroke-width="0.3"/><polygon points="557.00,192.00 557.32,198.65 558.26,205.25 559.84,211.72 562.01,218.02 564.78,224.08 568.11,229.84 571.98,235.27 576.34,240.31 581.16,244.90 586.40,249.02 592.00,252.62 627.00,192.00" fill="#6cb422" stroke="#6cb422" stroke-width="0.3"/><polygon points="592.00,252.62 597.42,255.44 603.06,257.78 608.88,259.61 614.84,260.94 620.90,261.73 627.00,262.00 627.00,192.00" fill="#aacf2a" stroke="#aacf2a" stroke-width="0.3"/><polygon points="627.00,262.00 634.11,261.64 641.16,260.55 648.05,258.76 654.73,256.28 661.11,253.12 667.15,249.34 627.00,192.00" fill="#0a7614" stroke="#0a7614" stroke-width="0.3"/><polygon points="667.15,249.34 672.46,245.23 677.35,240.63 681.78,235.58 685.71,230.12 689.09,224.32 691.90,218.22 694.12,211.88 695.71,205.36 696.68,198.71 697.00,192.00 627.00,192.00" fill="#2e9a1e" stroke="#2e9a1e" stroke-width="0.3"/><polygon points="642.71,185.49 633.51,176.29 620.49,176.29 611.29,185.49 611.29,198.51 620.49,207.71 633.51,207.71 642.71,198.51" fill="#2e9a1e"/><polygon points="642.74,193.38 642.80,191.82 642.70,190.26 642.45,188.71 627.00,192.00" fill="#6cb422" stroke="#6cb422" stroke-width="0.3"/><polygon points="642.45,188.71 642.06,187.22 641.52,185.78 640.85,184.39 640.04,183.07 639.10,181.84 638.05,180.71 636.90,179.69 635.65,178.78 634.32,178.00 632.92,177.35 627.00,192.00" fill="#053a0a" stroke="#053a0a" stroke-width="0.3"/><polygon points="632.92,177.35 631.53,176.86 630.10,176.51 628.65,176.29 627.00,192.00" fill="#2e9a1e" stroke="#2e9a1e" stroke-width="0.3"/><polygon points="628.65,176.29 627.18,176.20 625.71,176.25 624.26,176.44 627.00,192.00" fill="#0a7614" stroke="#0a7614" stroke-width="0.3"/><polygon points="624.26,176.44 622.73,176.79 621.25,177.28 619.83,177.92 618.47,178.70 617.20,179.61 616.02,180.63 614.96,181.77 614.00,183.01 613.18,184.34 612.49,185.74 611.95,187.21 611.55,188.71 611.30,190.26 611.20,191.82 611.26,193.38 627.00,192.00" fill="#f4f23a" stroke="#f4f23a" stroke-width="0.3"/><polygon points="611.26,193.38 611.44,194.74 611.74,196.09 627.00,192.00" fill="#6cb422" stroke="#6cb422" stroke-width="0.3"/><polygon points="611.74,196.09 612.20,197.53 612.80,198.93 613.53,200.26 614.38,201.51 615.35,202.67 616.43,203.74 617.60,204.70 618.86,205.54 620.20,206.26 621.60,206.85 627.00,192.00" fill="#053a0a" stroke="#053a0a" stroke-width="0.3"/><polygon points="621.60,206.85 622.91,207.26 624.26,207.56 625.62,207.74 627.00,192.00" fill="#aacf2a" stroke="#aacf2a" stroke-width="0.3"/><polygon points="625.62,207.74 627.00,207.80 628.38,207.74 629.74,207.56 627.00,192.00" fill="#0a7614" stroke="#0a7614" stroke-width="0.3"/><polygon points="629.74,207.56 631.29,207.21 632.80,206.70 634.25,206.04 635.62,205.24 636.91,204.31 638.10,203.25 639.17,202.07 640.12,200.80 640.94,199.44 641.62,198.00 642.15,196.50 642.52,194.95 642.74,193.38 627.00,192.00" fill="#f4f23a" stroke="#f4f23a" stroke-width="0.3"/><circle cx="627" cy="192" r="8.4" fill="#2e9a1e"/><polygon points="634.60,192.00 634.56,191.26 634.46,190.54 634.28,189.82 634.04,189.13 633.72,188.46 633.35,187.82 632.92,187.23 632.43,186.68 631.89,186.18 627.00,192.00" fill="#6cb422" stroke="#6cb422" stroke-width="0.3"/><polygon points="631.89,186.18 631.30,185.73 630.67,185.35 630.01,185.02 629.32,184.76 628.61,184.57 627.88,184.45 627.15,184.40 626.41,184.42 625.68,184.52 627.00,192.00" fill="#2e9a1e" stroke="#2e9a1e" stroke-width="0.3"/><polygon points="625.68,184.52 624.96,184.68 624.26,184.91 623.59,185.21 622.95,185.57 622.34,185.99 621.78,186.47 621.27,187.00 620.82,187.58 620.42,188.20 627.00,192.00" fill="#6cb422" stroke="#6cb422" stroke-width="0.3"/><polygon points="620.42,188.20 620.08,188.86 619.81,189.54 619.60,190.25 619.47,190.97 619.41,191.71 619.41,192.44 619.49,193.17 619.64,193.90 619.86,194.60 627.00,192.00" fill="#2e9a1e" stroke="#2e9a1e" stroke-width="0.3"/><polygon points="619.86,194.60 620.14,195.28 620.49,195.93 620.90,196.54 621.37,197.11 621.89,197.63 622.46,198.10 623.07,198.51 623.72,198.86 624.40,199.14 627.00,192.00" fill="#6cb422" stroke="#6cb422" stroke-width="0.3"/><polygon points="624.40,199.14 625.10,199.36 625.83,199.51 626.56,199.59 627.29,199.59 628.03,199.53 628.75,199.40 629.46,199.19 630.14,198.92 630.80,198.58 627.00,192.00" fill="#2e9a1e" stroke="#2e9a1e" stroke-width="0.3"/><polygon points="630.80,198.58 631.41,198.19 631.98,197.74 632.50,197.24 632.97,196.70 633.39,196.11 633.76,195.48 634.06,194.82 634.29,194.14 634.46,193.44 634.57,192.72 634.60,192.00 627.00,192.00" fill="#6cb422" stroke="#6cb422" stroke-width="0.3"/>
</g>
<linearGradient id="g34" x1="0" y1="0" x2="0" y2="1"><stop offset="0" stop-color="#f8f690"/><stop offset="0.3" stop-color="#c4de62"/><stop offset="0.55" stop-color="#86c060"/><stop offset="0.8" stop-color="#5a9a5a"/><stop offset="1" stop-color="#444"/></linearGradient>
<rect x="651.7" y="172.6" width="1.8" height="40.70000000000002" fill="url(#g34)"/>
<line x1="653.5" y1="178.40" x2="654.2" y2="178.40" stroke="#666" stroke-width="0.4"/>
<text x="654.5" y="179.70" font-size="3.9" font-weight="bold" font-family='"Liberation Serif", "DejaVu Serif", serif' fill="#444">3</text>
<line x1="653.5" y1="188.80" x2="654.2" y2="188.80" stroke="#666" stroke-width="0.4"/>
<text x="654.5" y="190.10" font-size="3.9" font-weight="bold" font-family='"Liberation Serif", "DejaVu Serif", serif' fill="#444">1</text>
<line x1="653.5" y1="199.20" x2="654.2" y2="199.20" stroke="#666" stroke-width="0.4"/>
<text x="654.2" y="200.50" font-size="3.9" font-weight="bold" font-family='"Liberation Serif", "DejaVu Serif", serif' fill="#444">−1</text>
<line x1="653.5" y1="209.60" x2="654.2" y2="209.60" stroke="#666" stroke-width="0.4"/>
<text x="654.2" y="210.90" font-size="3.9" font-weight="bold" font-family='"Liberation Serif", "DejaVu Serif", serif' fill="#444">−3</text>
<line x1="21.0" y1="1.4" x2="344.1" y2="1.4" stroke="#141414" stroke-width="0.9"/>
<line x1="0.8500000000000001" y1="20.1" x2="344.1" y2="20.1" stroke="#141414" stroke-width="0.9"/>
<line x1="0.8500000000000001" y1="167.3" x2="344.1" y2="167.3" stroke="#141414" stroke-width="0.9"/>
<line x1="0.8500000000000001" y1="317.55" x2="344.20000000000005" y2="317.55" stroke="#141414" stroke-width="1.45"/>
<line x1="346.9" y1="1.4" x2="667.0" y2="1.4" stroke="#141414" stroke-width="0.9"/>
<line x1="346.9" y1="20.1" x2="667.0" y2="20.1" stroke="#141414" stroke-width="0.9"/>
<line x1="346.9" y1="167.3" x2="667.0" y2="167.3" stroke="#141414" stroke-width="0.9"/>
<line x1="346.9" y1="317.55" x2="667.1" y2="317.55" stroke="#141414" stroke-width="1.45"/>
<line x1="1.35" y1="20.1" x2="1.35" y2="317.55" stroke="#141414" stroke-width="1.1"/>
<line x1="21.5" y1="1.4" x2="21.5" y2="317.55" stroke="#222" stroke-width="1.3"/>
<line x1="181.8" y1="1.4" x2="181.8" y2="317.55" stroke="#868686" stroke-width="1.6"/>
<line x1="343.6" y1="1.4" x2="343.6" y2="317.55" stroke="#2a2a2a" stroke-width="1.0"/>
<line x1="347.4" y1="1.4" x2="347.4" y2="317.55" stroke="#141414" stroke-width="1.0"/>
<line x1="507.5" y1="1.4" x2="507.5" y2="317.55" stroke="#141414" stroke-width="0.85"/>
<line x1="666.45" y1="1.4" x2="666.45" y2="317.55" stroke="#2a2a2a" stroke-width="1.3"/>
<text x="70.0" y="14.399999999999999" font-size="10.6" text-anchor="middle" font-weight="bold" font-style="italic" font-family='"Liberation Sans", sans-serif'>ℓ</text>
<text x="80.3" y="14.7" font-size="11.4" text-anchor="middle" font-weight="normal" font-style="normal" font-family='"DejaVu Sans", sans-serif'>=</text>
<text x="90.89999999999999" y="14.2" font-size="9.1" text-anchor="middle" font-weight="bold" font-style="normal" font-family='"DejaVu Serif", serif'>2</text>
<text x="95.6" y="14.2" font-size="9.1" text-anchor="middle" font-weight="bold" font-style="normal" font-family='"DejaVu Serif", serif'>,</text>
<text x="110.5" y="14.1" font-size="9.9" text-anchor="middle" font-weight="bold" font-style="italic" font-family='"DejaVu Serif", serif'>p</text>
<text x="121.5" y="14.7" font-size="11.4" text-anchor="middle" font-weight="normal" font-style="normal" font-family='"DejaVu Sans", sans-serif'>=</text>
<text x="131.6" y="14.2" font-size="9.1" text-anchor="middle" font-weight="bold" font-style="normal" font-family='"DejaVu Serif", serif'>0</text>
<text x="231.4" y="14.399999999999999" font-size="10.6" text-anchor="middle" font-weight="bold" font-style="italic" font-family='"Liberation Sans", sans-serif'>ℓ</text>
<text x="241.7" y="14.7" font-size="11.4" text-anchor="middle" font-weight="normal" font-style="normal" font-family='"DejaVu Sans", sans-serif'>=</text>
<text x="252.3" y="14.2" font-size="9.1" text-anchor="middle" font-weight="bold" font-style="normal" font-family='"DejaVu Serif", serif'>3</text>
<text x="257.0" y="14.2" font-size="9.1" text-anchor="middle" font-weight="bold" font-style="normal" font-family='"DejaVu Serif", serif'>,</text>
<text x="271.9" y="14.1" font-size="9.9" text-anchor="middle" font-weight="bold" font-style="italic" font-family='"DejaVu Serif", serif'>p</text>
<text x="282.9" y="14.7" font-size="11.4" text-anchor="middle" font-weight="normal" font-style="normal" font-family='"DejaVu Sans", sans-serif'>=</text>
<text x="293.0" y="14.2" font-size="9.1" text-anchor="middle" font-weight="bold" font-style="normal" font-family='"DejaVu Serif", serif'>0</text>
<text x="395.0" y="14.1" font-size="9.9" text-anchor="middle" font-weight="bold" font-style="italic" font-family='"DejaVu Serif", serif'>p</text>
<text x="406.04999999999995" y="14.7" font-size="11.4" text-anchor="middle" font-weight="normal" font-style="normal" font-family='"DejaVu Sans", sans-serif'>=</text>
<text x="416.15" y="14.2" font-size="9.1" text-anchor="middle" font-weight="bold" font-style="normal" font-family='"DejaVu Serif", serif'>1</text>
<text x="420.4" y="14.2" font-size="9.1" text-anchor="middle" font-weight="bold" font-style="normal" font-family='"DejaVu Serif", serif'>,</text>
<text x="437.59999999999997" y="14.399999999999999" font-size="10.6" text-anchor="middle" font-weight="bold" font-style="italic" font-family='"Liberation Sans", sans-serif'>ℓ</text>
<text x="448.59999999999997" y="14.7" font-size="11.4" text-anchor="middle" font-weight="normal" font-style="normal" font-family='"DejaVu Sans", sans-serif'>=</text>
<text x="458.59999999999997" y="14.2" font-size="9.1" text-anchor="middle" font-weight="bold" font-style="normal" font-family='"DejaVu Serif", serif'>1</text>
<text x="555.0" y="14.1" font-size="9.9" text-anchor="middle" font-weight="bold" font-style="italic" font-family='"DejaVu Serif", serif'>p</text>
<text x="566.05" y="14.7" font-size="11.4" text-anchor="middle" font-weight="normal" font-style="normal" font-family='"DejaVu Sans", sans-serif'>=</text>
<text x="576.15" y="14.2" font-size="9.1" text-anchor="middle" font-weight="bold" font-style="normal" font-family='"DejaVu Serif", serif'>2</text>
<text x="580.4" y="14.2" font-size="9.1" text-anchor="middle" font-weight="bold" font-style="normal" font-family='"DejaVu Serif", serif'>,</text>
<text x="597.6" y="14.399999999999999" font-size="10.6" text-anchor="middle" font-weight="bold" font-style="italic" font-family='"Liberation Sans", sans-serif'>ℓ</text>
<text x="608.6" y="14.7" font-size="11.4" text-anchor="middle" font-weight="normal" font-style="normal" font-family='"DejaVu Sans", sans-serif'>=</text>
<text x="618.6" y="14.2" font-size="9.1" text-anchor="middle" font-weight="bold" font-style="normal" font-family='"DejaVu Serif", serif'>1</text>
<g transform="translate(14.9 91) rotate(-90)">
<text x="-9.8" y="0" font-size="10.6" text-anchor="middle" font-weight="bold" font-style="italic" font-family='"Liberation Sans", sans-serif'>N</text>
<text x="0.6" y="0" font-size="10" text-anchor="middle" font-weight="normal" font-style="normal" font-family='"DejaVu Sans", sans-serif'>=</text>
<text x="10.6" y="0" font-size="8.6" text-anchor="middle" font-weight="bold" font-style="normal" font-family='"DejaVu Serif", serif'>1</text>
</g>
<g transform="translate(14.9 240.5) rotate(-90)">
<text x="-9.8" y="0" font-size="10.6" text-anchor="middle" font-weight="bold" font-style="italic" font-family='"Liberation Sans", sans-serif'>N</text>
<text x="0.6" y="0" font-size="10" text-anchor="middle" font-weight="normal" font-style="normal" font-family='"DejaVu Sans", sans-serif'>=</text>
<text x="10.6" y="0" font-size="8.6" text-anchor="middle" font-weight="bold" font-style="normal" font-family='"DejaVu Serif", serif'>2</text>
</g>
</svg>
</body></html>
